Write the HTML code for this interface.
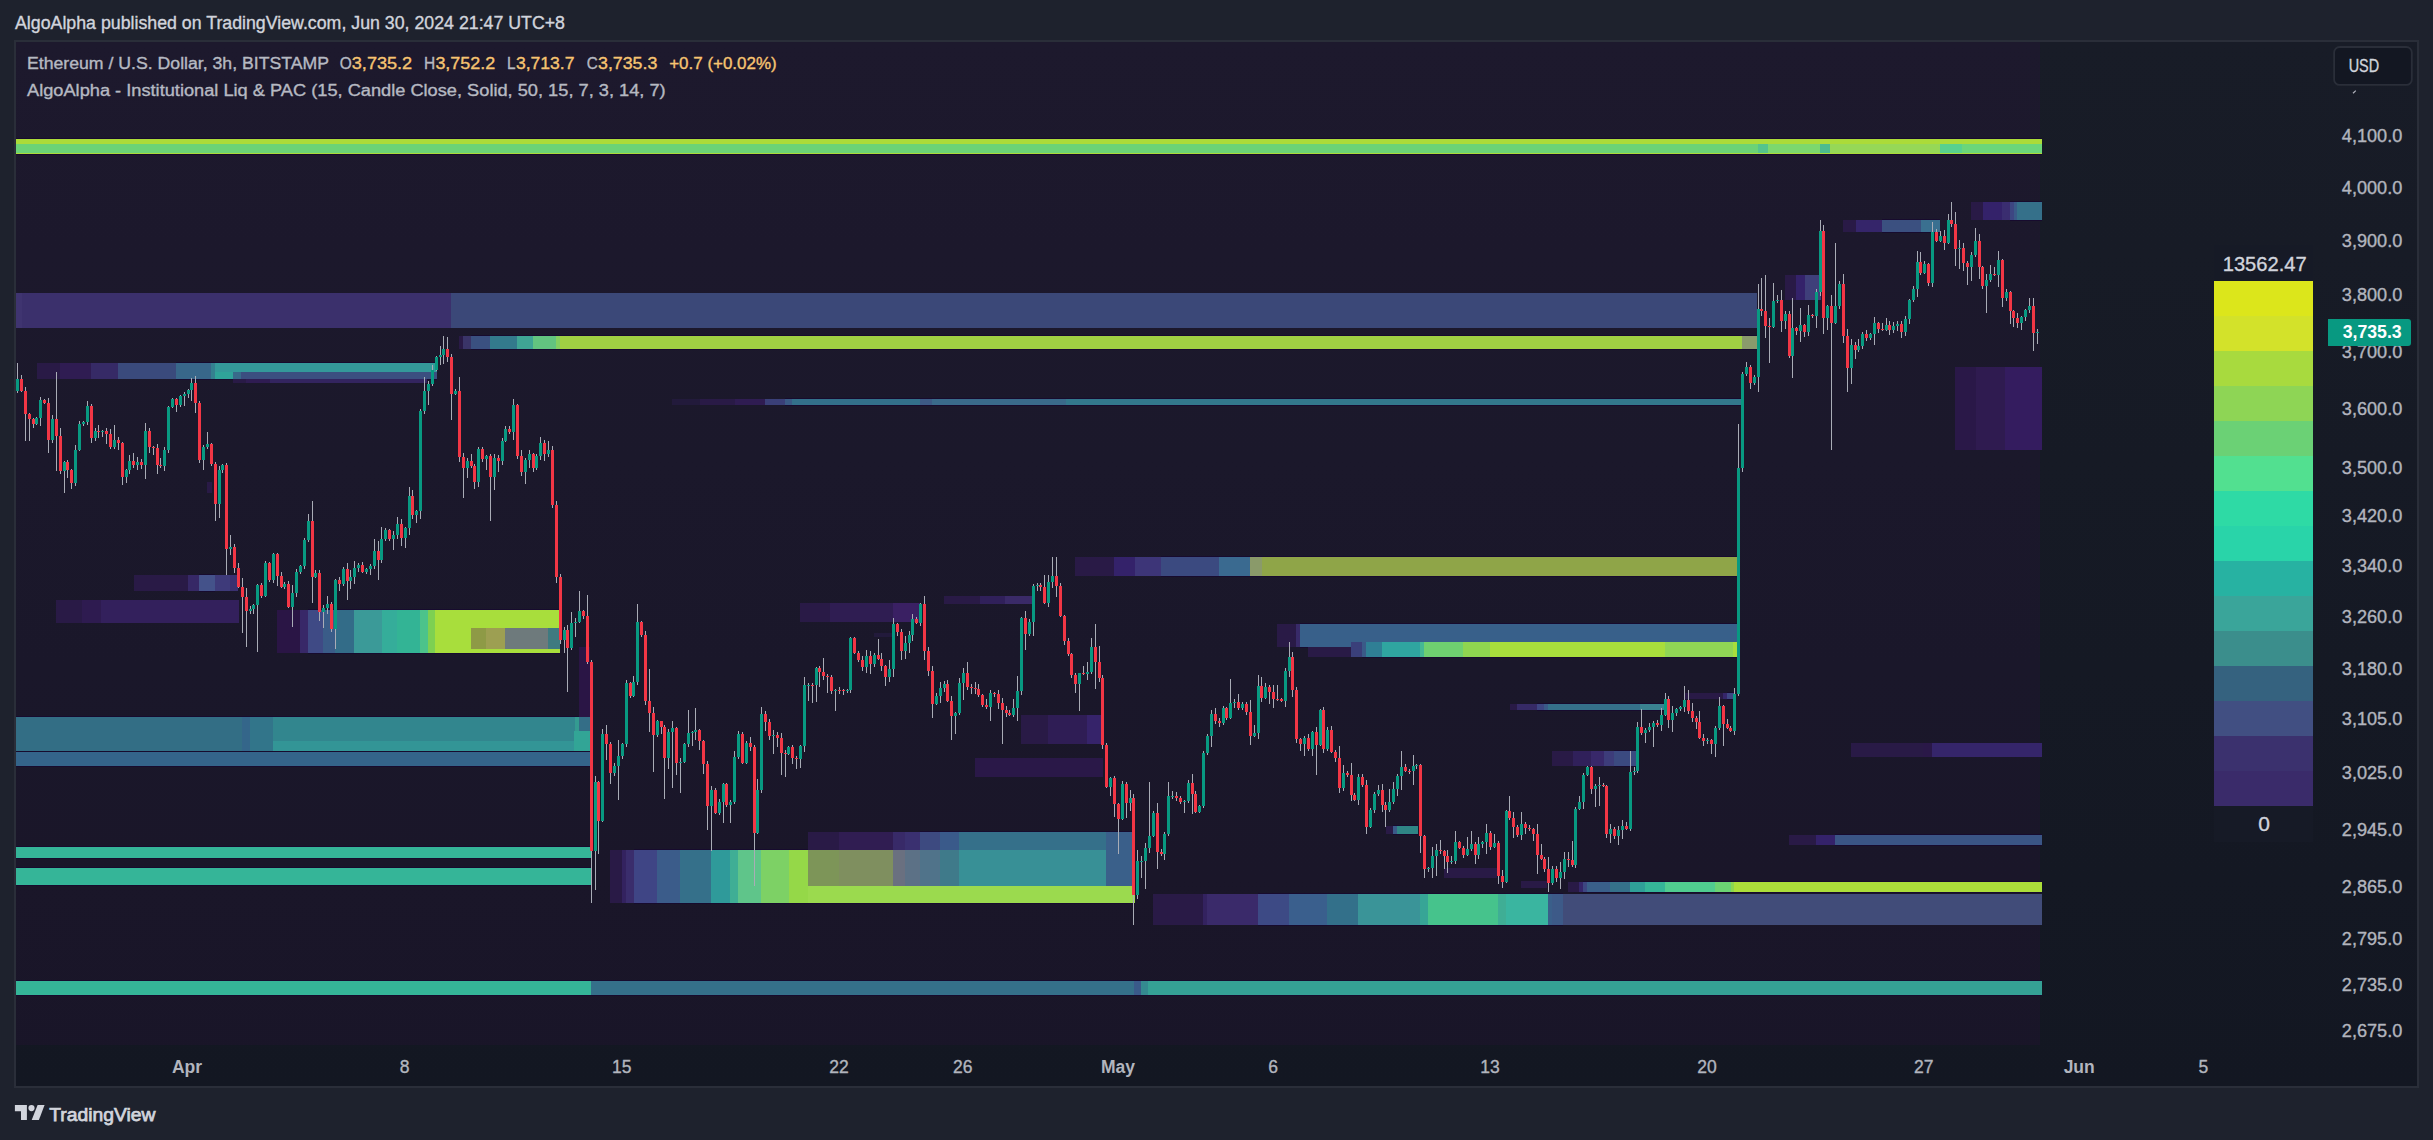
<!DOCTYPE html><html><head><meta charset="utf-8"><title>chart</title><style>html,body{margin:0;padding:0;background:#1e222d}svg{display:block}text{font-family:"Liberation Sans",sans-serif}</style></head><body>
<svg width="2433" height="1140" viewBox="0 0 2433 1140">
<rect width="2433" height="1140" fill="#1e222d"/>
<rect x="14" y="40" width="2405" height="1048" fill="#2a2e39"/>
<defs><linearGradient id="bg" x1="0" y1="0" x2="0" y2="1"><stop offset="0" stop-color="#181c27"/><stop offset="1" stop-color="#131722"/></linearGradient></defs>
<rect x="16" y="42" width="2401" height="1044" fill="url(#bg)"/>
<rect x="16" y="42" width="2024" height="1003" fill="rgb(60,15,82)" fill-opacity="0.15"/>
<g shape-rendering="crispEdges">
<rect x="16" y="138" width="2026" height="7.3" fill="#170b2e"/>
<rect x="16" y="143.3" width="1742" height="11" fill="#170b2e"/>
<rect x="1758" y="143.3" width="10" height="11" fill="#170b2e"/>
<rect x="1768" y="143.3" width="52" height="11" fill="#170b2e"/>
<rect x="1820" y="143.3" width="10" height="11" fill="#170b2e"/>
<rect x="1830" y="143.3" width="110" height="11" fill="#170b2e"/>
<rect x="1940" y="143.3" width="22" height="11" fill="#170b2e"/>
<rect x="1962" y="143.3" width="80" height="11" fill="#170b2e"/>
<rect x="16" y="152" width="2026" height="3.2" fill="#170b2e"/>
<rect x="471" y="335" width="19" height="15" fill="#170b2e"/>
<rect x="490" y="335" width="27" height="15" fill="#170b2e"/>
<rect x="517" y="335" width="16" height="15" fill="#170b2e"/>
<rect x="533" y="335" width="23" height="15" fill="#170b2e"/>
<rect x="556" y="335" width="4" height="15" fill="#170b2e"/>
<rect x="560" y="335" width="1182" height="15" fill="#170b2e"/>
<rect x="1742" y="335" width="15" height="15" fill="#170b2e"/>
<rect x="176" y="362" width="35" height="11" fill="#170b2e"/>
<rect x="211" y="362" width="4" height="11" fill="#170b2e"/>
<rect x="215" y="362" width="222" height="11" fill="#170b2e"/>
<rect x="176" y="371" width="35" height="9" fill="#170b2e"/>
<rect x="211" y="371" width="4" height="9" fill="#170b2e"/>
<rect x="215" y="371" width="18" height="9" fill="#170b2e"/>
<rect x="233" y="371" width="8" height="9" fill="#170b2e"/>
<rect x="241" y="371" width="196" height="9" fill="#170b2e"/>
<rect x="785" y="398" width="7" height="8" fill="#170b2e"/>
<rect x="792" y="398" width="128" height="8" fill="#170b2e"/>
<rect x="920" y="398" width="12" height="8" fill="#170b2e"/>
<rect x="932" y="398" width="134" height="8" fill="#170b2e"/>
<rect x="1066" y="398" width="675" height="8" fill="#170b2e"/>
<rect x="199" y="574" width="16" height="17.7" fill="#170b2e"/>
<rect x="308" y="609" width="15" height="44.7" fill="#170b2e"/>
<rect x="323" y="609" width="12" height="44.7" fill="#170b2e"/>
<rect x="335" y="609" width="19" height="44.7" fill="#170b2e"/>
<rect x="354" y="609" width="28" height="44.7" fill="#170b2e"/>
<rect x="382" y="609" width="15" height="44.7" fill="#170b2e"/>
<rect x="397" y="609" width="23" height="44.7" fill="#170b2e"/>
<rect x="420" y="609" width="8" height="44.7" fill="#170b2e"/>
<rect x="428" y="609" width="7" height="44.7" fill="#170b2e"/>
<rect x="435" y="609" width="125" height="44.7" fill="#170b2e"/>
<rect x="471" y="627" width="15" height="23" fill="#170b2e"/>
<rect x="486" y="627" width="19" height="23" fill="#170b2e"/>
<rect x="548" y="627" width="12" height="23" fill="#170b2e"/>
<rect x="16" y="715.8" width="226" height="36.2" fill="#170b2e"/>
<rect x="242" y="715.8" width="8" height="36.2" fill="#170b2e"/>
<rect x="250" y="715.8" width="23" height="36.2" fill="#170b2e"/>
<rect x="273" y="715.8" width="302" height="25.7" fill="#170b2e"/>
<rect x="273" y="739.5" width="302" height="12.5" fill="#170b2e"/>
<rect x="575" y="715.8" width="4" height="16.2" fill="#170b2e"/>
<rect x="579" y="715.8" width="11" height="16.2" fill="#170b2e"/>
<rect x="574" y="730" width="16" height="22" fill="#170b2e"/>
<rect x="16" y="751" width="574" height="15.7" fill="#170b2e"/>
<rect x="16" y="846.3" width="574.7" height="12.4" fill="#170b2e"/>
<rect x="16" y="867.3" width="574.7" height="18.7" fill="#170b2e"/>
<rect x="16" y="979.7" width="575" height="16.6" fill="#170b2e"/>
<rect x="591" y="979.7" width="543" height="16.6" fill="#170b2e"/>
<rect x="1134" y="979.7" width="7" height="16.6" fill="#170b2e"/>
<rect x="1141" y="979.7" width="7" height="16.6" fill="#170b2e"/>
<rect x="1148" y="979.7" width="894" height="16.6" fill="#170b2e"/>
<rect x="1161" y="556" width="58" height="21" fill="#170b2e"/>
<rect x="1219" y="556" width="31" height="21" fill="#170b2e"/>
<rect x="1250" y="556" width="12" height="21" fill="#170b2e"/>
<rect x="1262" y="556" width="475" height="21" fill="#170b2e"/>
<rect x="1300" y="623" width="437" height="25" fill="#170b2e"/>
<rect x="1362" y="641" width="4" height="17" fill="#170b2e"/>
<rect x="1366" y="641" width="16" height="17" fill="#170b2e"/>
<rect x="1382" y="641" width="38" height="17" fill="#170b2e"/>
<rect x="1420" y="641" width="4" height="17" fill="#170b2e"/>
<rect x="1424" y="641" width="39" height="17" fill="#170b2e"/>
<rect x="1463" y="641" width="27" height="17" fill="#170b2e"/>
<rect x="1490" y="641" width="175" height="17" fill="#170b2e"/>
<rect x="1665" y="641" width="68" height="17" fill="#170b2e"/>
<rect x="1733" y="641" width="4" height="17" fill="#170b2e"/>
<rect x="1536.6" y="703" width="7.4" height="8" fill="#170b2e"/>
<rect x="1544" y="703" width="4" height="8" fill="#170b2e"/>
<rect x="1548" y="703" width="92" height="8" fill="#170b2e"/>
<rect x="1640" y="703" width="24" height="8" fill="#170b2e"/>
<rect x="1727" y="692" width="6.6" height="7.7" fill="#170b2e"/>
<rect x="1614" y="750.2" width="23" height="16.7" fill="#170b2e"/>
<rect x="920" y="831" width="19.6" height="20.4" fill="#170b2e"/>
<rect x="939.6" y="831" width="19.4" height="20.4" fill="#170b2e"/>
<rect x="959" y="831" width="147" height="20.4" fill="#170b2e"/>
<rect x="1106" y="831" width="28" height="20.4" fill="#170b2e"/>
<rect x="634" y="849.4" width="22.6" height="54.5" fill="#170b2e"/>
<rect x="656.6" y="849.4" width="23.4" height="54.5" fill="#170b2e"/>
<rect x="680" y="849.4" width="30.7" height="54.5" fill="#170b2e"/>
<rect x="710.7" y="849.4" width="19.3" height="54.5" fill="#170b2e"/>
<rect x="730" y="849.4" width="7.7" height="54.5" fill="#170b2e"/>
<rect x="737.7" y="849.4" width="23.3" height="54.5" fill="#170b2e"/>
<rect x="761" y="849.4" width="28" height="54.5" fill="#170b2e"/>
<rect x="789" y="849.4" width="19.2" height="54.5" fill="#170b2e"/>
<rect x="808.2" y="849.4" width="326.3" height="54.5" fill="#170b2e"/>
<rect x="808.2" y="849.4" width="30.8" height="37.3" fill="#170b2e"/>
<rect x="839" y="849.4" width="54" height="37.3" fill="#170b2e"/>
<rect x="893" y="849.4" width="12" height="37.3" fill="#170b2e"/>
<rect x="905" y="849.4" width="15.3" height="37.3" fill="#170b2e"/>
<rect x="920.3" y="849.4" width="19.3" height="37.3" fill="#170b2e"/>
<rect x="939.6" y="849.4" width="19.4" height="37.3" fill="#170b2e"/>
<rect x="959" y="849.4" width="147" height="37.3" fill="#170b2e"/>
<rect x="1106" y="849.4" width="27.5" height="37.3" fill="#170b2e"/>
<rect x="1258" y="893" width="31" height="33" fill="#170b2e"/>
<rect x="1289" y="893" width="38" height="33" fill="#170b2e"/>
<rect x="1327" y="893" width="31" height="33" fill="#170b2e"/>
<rect x="1358" y="893" width="62" height="33" fill="#170b2e"/>
<rect x="1420" y="893" width="8" height="33" fill="#170b2e"/>
<rect x="1428" y="893" width="70" height="33" fill="#170b2e"/>
<rect x="1498" y="893" width="7.7" height="33" fill="#170b2e"/>
<rect x="1505.7" y="893" width="42.3" height="33" fill="#170b2e"/>
<rect x="1548" y="893" width="4" height="33" fill="#170b2e"/>
<rect x="1552" y="893" width="11" height="33" fill="#170b2e"/>
<rect x="1393" y="825" width="4" height="10" fill="#170b2e"/>
<rect x="1397" y="825" width="21.2" height="10" fill="#170b2e"/>
<rect x="1583" y="880.8" width="4" height="12.5" fill="#170b2e"/>
<rect x="1587" y="880.8" width="23" height="12.5" fill="#170b2e"/>
<rect x="1610" y="880.8" width="20" height="12.5" fill="#170b2e"/>
<rect x="1630" y="880.8" width="15" height="12.5" fill="#170b2e"/>
<rect x="1645" y="880.8" width="20" height="12.5" fill="#170b2e"/>
<rect x="1665" y="880.8" width="49.5" height="12.5" fill="#170b2e"/>
<rect x="1714.5" y="880.8" width="16.5" height="12.5" fill="#170b2e"/>
<rect x="1731" y="880.8" width="3" height="12.5" fill="#170b2e"/>
<rect x="1734" y="880.8" width="308" height="12.5" fill="#170b2e"/>
<rect x="2010" y="201" width="4" height="20.2" fill="#170b2e"/>
<rect x="2014" y="201" width="3" height="20.2" fill="#170b2e"/>
<rect x="2017" y="201" width="25" height="20.2" fill="#170b2e"/>
<rect x="1882" y="219.2" width="39.4" height="13.8" fill="#170b2e"/>
<rect x="1921.4" y="219.2" width="18.6" height="13.8" fill="#170b2e"/>
<rect x="1835" y="834.3" width="207" height="11.4" fill="#170b2e"/>
<rect x="16" y="139" width="2026" height="5.3" fill="#abdb39"/>
<rect x="16" y="144.3" width="1742" height="9" fill="#6bd376"/>
<rect x="1758" y="144.3" width="10" height="9" fill="#55c48c"/>
<rect x="1768" y="144.3" width="52" height="9" fill="#7cd86e"/>
<rect x="1820" y="144.3" width="10" height="9" fill="#4cbc8e"/>
<rect x="1830" y="144.3" width="110" height="9" fill="#96d857"/>
<rect x="1940" y="144.3" width="22" height="9" fill="#58d18e"/>
<rect x="1962" y="144.3" width="80" height="9" fill="#6bd67a"/>
<rect x="16" y="153" width="2026" height="1.2" fill="#abdb39"/>
<rect x="16" y="293" width="6" height="35" fill="#3f3470"/>
<rect x="22" y="293" width="429" height="35" fill="#3b306c"/>
<rect x="451" y="293" width="1306" height="35" fill="#3b4878"/>
<rect x="459" y="336" width="4" height="13" fill="#291a46"/>
<rect x="463" y="336" width="8" height="13" fill="#3a3468"/>
<rect x="471" y="336" width="19" height="13" fill="#3a5080"/>
<rect x="490" y="336" width="27" height="13" fill="#337a8c"/>
<rect x="517" y="336" width="16" height="13" fill="#3fa595"/>
<rect x="533" y="336" width="23" height="13" fill="#62c480"/>
<rect x="556" y="336" width="4" height="13" fill="#84d060"/>
<rect x="560" y="336" width="1182" height="13" fill="#a0d043"/>
<rect x="1742" y="336" width="15" height="13" fill="#8a9a6c"/>
<rect x="37" y="363" width="23" height="9" fill="#291a46"/>
<rect x="60" y="363" width="31" height="9" fill="#2f1c52"/>
<rect x="91" y="363" width="27" height="9" fill="#362a66"/>
<rect x="118" y="363" width="58" height="9" fill="#3a4a7c"/>
<rect x="176" y="363" width="35" height="9" fill="#38678a"/>
<rect x="211" y="363" width="4" height="9" fill="#348090"/>
<rect x="215" y="363" width="222" height="9" fill="#34999a"/>
<rect x="37" y="372" width="23" height="7" fill="#291a46"/>
<rect x="60" y="372" width="31" height="7" fill="#2f1c52"/>
<rect x="91" y="372" width="27" height="7" fill="#362a66"/>
<rect x="118" y="372" width="58" height="7" fill="#3a4a7c"/>
<rect x="176" y="372" width="35" height="7" fill="#38678a"/>
<rect x="211" y="372" width="4" height="7" fill="#348090"/>
<rect x="215" y="372" width="18" height="7" fill="#2fa39a"/>
<rect x="233" y="372" width="8" height="7" fill="#386a8a"/>
<rect x="241" y="372" width="196" height="7" fill="#3b4f80"/>
<rect x="233" y="379" width="13" height="4" fill="#291a46"/>
<rect x="246" y="379" width="24" height="4" fill="#2f1c52"/>
<rect x="270" y="379" width="157" height="4" fill="#33245f"/>
<rect x="672" y="399" width="28" height="6" fill="#221a3b"/>
<rect x="700" y="399" width="35" height="6" fill="#291a46"/>
<rect x="735" y="399" width="30" height="6" fill="#2f1c52"/>
<rect x="765" y="399" width="20" height="6" fill="#3a3f78"/>
<rect x="785" y="399" width="7" height="6" fill="#3a5a85"/>
<rect x="792" y="399" width="128" height="6" fill="#33708a"/>
<rect x="920" y="399" width="12" height="6" fill="#3d5a85"/>
<rect x="932" y="399" width="134" height="6" fill="#3a6a8a"/>
<rect x="1066" y="399" width="675" height="6" fill="#33788c"/>
<rect x="207" y="482" width="5" height="11" fill="#291a46"/>
<rect x="134" y="575" width="54" height="15.7" fill="#291a46"/>
<rect x="188" y="575" width="11" height="15.7" fill="#362866"/>
<rect x="199" y="575" width="16" height="15.7" fill="#44528a"/>
<rect x="215" y="575" width="15" height="15.7" fill="#3e3a7a"/>
<rect x="230" y="575" width="8" height="15.7" fill="#3a3070"/>
<rect x="56" y="600" width="26" height="22.7" fill="#291a46"/>
<rect x="82" y="600" width="19" height="22.7" fill="#2e1b50"/>
<rect x="101" y="600" width="138" height="22.7" fill="#33205c"/>
<rect x="277" y="610" width="23" height="42.7" fill="#2a1545"/>
<rect x="300" y="610" width="8" height="42.7" fill="#382868"/>
<rect x="308" y="610" width="15" height="42.7" fill="#3f4a85"/>
<rect x="323" y="610" width="12" height="42.7" fill="#3a5c88"/>
<rect x="335" y="610" width="19" height="42.7" fill="#336c88"/>
<rect x="354" y="610" width="28" height="42.7" fill="#3b9a98"/>
<rect x="382" y="610" width="15" height="42.7" fill="#35ad9a"/>
<rect x="397" y="610" width="23" height="42.7" fill="#33b495"/>
<rect x="420" y="610" width="8" height="42.7" fill="#4cc38b"/>
<rect x="428" y="610" width="7" height="42.7" fill="#7dd052"/>
<rect x="435" y="610" width="125" height="42.7" fill="#a8de3c"/>
<rect x="471" y="628" width="15" height="21" fill="#8e9a46"/>
<rect x="486" y="628" width="19" height="21" fill="#9d9f52"/>
<rect x="505" y="628" width="43" height="21" fill="#6e7a7c"/>
<rect x="548" y="628" width="12" height="21" fill="#3f7a80"/>
<rect x="579" y="647" width="11" height="70" fill="#2a1545"/>
<rect x="16" y="716.8" width="226" height="34.2" fill="#336e85"/>
<rect x="242" y="716.8" width="8" height="34.2" fill="#34668a"/>
<rect x="250" y="716.8" width="23" height="34.2" fill="#32758a"/>
<rect x="273" y="716.8" width="302" height="23.7" fill="#32868e"/>
<rect x="273" y="740.5" width="302" height="10.5" fill="#339596"/>
<rect x="575" y="716.8" width="4" height="14.2" fill="#349b91"/>
<rect x="579" y="716.8" width="11" height="14.2" fill="#346e87"/>
<rect x="574" y="731" width="16" height="20" fill="#32a596"/>
<rect x="16" y="752" width="574" height="13.7" fill="#34648a"/>
<rect x="16" y="847.3" width="574.7" height="10.4" fill="#35b598"/>
<rect x="16" y="868.3" width="574.7" height="16.7" fill="#35b598"/>
<rect x="16" y="980.7" width="575" height="14.6" fill="#35b598"/>
<rect x="591" y="980.7" width="543" height="14.6" fill="#35708a"/>
<rect x="1134" y="980.7" width="7" height="14.6" fill="#3a5a8a"/>
<rect x="1141" y="980.7" width="7" height="14.6" fill="#348a90"/>
<rect x="1148" y="980.7" width="894" height="14.6" fill="#35a095"/>
<rect x="800" y="603" width="30" height="19" fill="#291a46"/>
<rect x="830" y="603" width="63" height="19" fill="#2f1d52"/>
<rect x="893" y="603" width="27" height="19" fill="#3a2063"/>
<rect x="944" y="596" width="36" height="8" fill="#291a46"/>
<rect x="980" y="596" width="25" height="8" fill="#30205a"/>
<rect x="1005" y="596" width="27" height="8" fill="#3a2a68"/>
<rect x="874" y="632.7" width="19" height="4.3" fill="#221a3b"/>
<rect x="1021" y="715.2" width="27" height="28.6" fill="#291a46"/>
<rect x="1048" y="715.2" width="39" height="28.6" fill="#2f1d55"/>
<rect x="1087" y="715.2" width="15" height="28.6" fill="#36236a"/>
<rect x="975" y="757.7" width="128" height="19" fill="#2a1848"/>
<rect x="1075" y="557" width="39" height="19" fill="#291a46"/>
<rect x="1114" y="557" width="20.6" height="19" fill="#34226a"/>
<rect x="1134.6" y="557" width="26.4" height="19" fill="#3d3578"/>
<rect x="1161" y="557" width="58" height="19" fill="#3b4a80"/>
<rect x="1219" y="557" width="31" height="19" fill="#3a6a90"/>
<rect x="1250" y="557" width="12" height="19" fill="#8a9a6a"/>
<rect x="1262" y="557" width="475" height="19" fill="#8fa548"/>
<rect x="1277" y="624" width="19" height="23" fill="#291a46"/>
<rect x="1296" y="624" width="4" height="23" fill="#382a68"/>
<rect x="1300" y="624" width="437" height="23" fill="#38608a"/>
<rect x="1308" y="647" width="42.6" height="10" fill="#291a46"/>
<rect x="1350.6" y="642" width="11.4" height="15" fill="#3a3f7a"/>
<rect x="1362" y="642" width="4" height="15" fill="#3a5a88"/>
<rect x="1366" y="642" width="16" height="15" fill="#2f7f95"/>
<rect x="1382" y="642" width="38" height="15" fill="#2fa5a0"/>
<rect x="1420" y="642" width="4" height="15" fill="#45b895"/>
<rect x="1424" y="642" width="39" height="15" fill="#6fd070"/>
<rect x="1463" y="642" width="27" height="15" fill="#8fd550"/>
<rect x="1490" y="642" width="175" height="15" fill="#a8de3c"/>
<rect x="1665" y="642" width="68" height="15" fill="#90d555"/>
<rect x="1733" y="642" width="4" height="15" fill="#a8de3c"/>
<rect x="1510" y="704" width="7" height="6" fill="#291a46"/>
<rect x="1517" y="704" width="19.6" height="6" fill="#362a66"/>
<rect x="1536.6" y="704" width="7.4" height="6" fill="#3d4682"/>
<rect x="1544" y="704" width="4" height="6" fill="#3a5a88"/>
<rect x="1548" y="704" width="92" height="6" fill="#35708a"/>
<rect x="1640" y="704" width="24" height="6" fill="#3a8290"/>
<rect x="1684.4" y="693" width="38.6" height="5.7" fill="#291a46"/>
<rect x="1723" y="693" width="4" height="5.7" fill="#35256a"/>
<rect x="1727" y="693" width="6.6" height="5.7" fill="#3d4682"/>
<rect x="1552" y="751.2" width="21" height="14.7" fill="#291a46"/>
<rect x="1573" y="751.2" width="17.7" height="14.7" fill="#30205a"/>
<rect x="1590.7" y="751.2" width="13.3" height="14.7" fill="#38286a"/>
<rect x="1604" y="751.2" width="10" height="14.7" fill="#3d3c7a"/>
<rect x="1614" y="751.2" width="23" height="14.7" fill="#3b4a80"/>
<rect x="808" y="832" width="31" height="18.4" fill="#291a46"/>
<rect x="839" y="832" width="54" height="18.4" fill="#301d52"/>
<rect x="893" y="832" width="12" height="18.4" fill="#382a68"/>
<rect x="905" y="832" width="15" height="18.4" fill="#3a3070"/>
<rect x="920" y="832" width="19.6" height="18.4" fill="#3d4a80"/>
<rect x="939.6" y="832" width="19.4" height="18.4" fill="#3a5a8a"/>
<rect x="959" y="832" width="147" height="18.4" fill="#35708a"/>
<rect x="1106" y="832" width="28" height="18.4" fill="#3a5f8a"/>
<rect x="610" y="850.4" width="12" height="52.5" fill="#291a46"/>
<rect x="622" y="850.4" width="4" height="52.5" fill="#33225f"/>
<rect x="626" y="850.4" width="8" height="52.5" fill="#3a2d6c"/>
<rect x="634" y="850.4" width="22.6" height="52.5" fill="#3f4585"/>
<rect x="656.6" y="850.4" width="23.4" height="52.5" fill="#3b5c8a"/>
<rect x="680" y="850.4" width="30.7" height="52.5" fill="#35708a"/>
<rect x="710.7" y="850.4" width="19.3" height="52.5" fill="#2f9a9a"/>
<rect x="730" y="850.4" width="7.7" height="52.5" fill="#3fae95"/>
<rect x="737.7" y="850.4" width="23.3" height="52.5" fill="#5fc58a"/>
<rect x="761" y="850.4" width="28" height="52.5" fill="#7dd165"/>
<rect x="789" y="850.4" width="19.2" height="52.5" fill="#95d848"/>
<rect x="808.2" y="850.4" width="326.3" height="52.5" fill="#9bda4e"/>
<rect x="808.2" y="850.4" width="30.8" height="35.3" fill="#7d9558"/>
<rect x="839" y="850.4" width="54" height="35.3" fill="#7f8f5f"/>
<rect x="893" y="850.4" width="12" height="35.3" fill="#6a7080"/>
<rect x="905" y="850.4" width="15.3" height="35.3" fill="#5c7186"/>
<rect x="920.3" y="850.4" width="19.3" height="35.3" fill="#50738a"/>
<rect x="939.6" y="850.4" width="19.4" height="35.3" fill="#3f7a8a"/>
<rect x="959" y="850.4" width="147" height="35.3" fill="#389096"/>
<rect x="1106" y="850.4" width="27.5" height="35.3" fill="#3a608a"/>
<rect x="1153" y="894" width="50" height="31" fill="#291a46"/>
<rect x="1203" y="894" width="4" height="31" fill="#33225f"/>
<rect x="1207" y="894" width="51" height="31" fill="#3a2a6a"/>
<rect x="1258" y="894" width="31" height="31" fill="#3d4a85"/>
<rect x="1289" y="894" width="38" height="31" fill="#3a5f8d"/>
<rect x="1327" y="894" width="31" height="31" fill="#33708a"/>
<rect x="1358" y="894" width="62" height="31" fill="#3a9498"/>
<rect x="1420" y="894" width="8" height="31" fill="#37a596"/>
<rect x="1428" y="894" width="70" height="31" fill="#46c38c"/>
<rect x="1498" y="894" width="7.7" height="31" fill="#3fae95"/>
<rect x="1505.7" y="894" width="42.3" height="31" fill="#3ab5a0"/>
<rect x="1548" y="894" width="4" height="31" fill="#3a5f8a"/>
<rect x="1552" y="894" width="11" height="31" fill="#3d5a88"/>
<rect x="1563" y="894" width="479" height="31" fill="#414c79"/>
<rect x="1386" y="826" width="7" height="8" fill="#291a46"/>
<rect x="1393" y="826" width="4" height="8" fill="#3a5a88"/>
<rect x="1397" y="826" width="21.2" height="8" fill="#2f8585"/>
<rect x="1444" y="868" width="53" height="9.8" fill="#291a46"/>
<rect x="1521" y="881.2" width="26" height="6.8" fill="#291a46"/>
<rect x="1568" y="881.8" width="11" height="10.5" fill="#291a46"/>
<rect x="1579" y="881.8" width="4" height="10.5" fill="#35256a"/>
<rect x="1583" y="881.8" width="4" height="10.5" fill="#3d4682"/>
<rect x="1587" y="881.8" width="23" height="10.5" fill="#3a5f8a"/>
<rect x="1610" y="881.8" width="20" height="10.5" fill="#35708a"/>
<rect x="1630" y="881.8" width="15" height="10.5" fill="#2f9f98"/>
<rect x="1645" y="881.8" width="20" height="10.5" fill="#35b598"/>
<rect x="1665" y="881.8" width="49.5" height="10.5" fill="#50cc90"/>
<rect x="1714.5" y="881.8" width="16.5" height="10.5" fill="#6bd373"/>
<rect x="1731" y="881.8" width="3" height="10.5" fill="#8cd650"/>
<rect x="1734" y="881.8" width="308" height="10.5" fill="#acde3a"/>
<rect x="1971" y="202" width="12" height="18.2" fill="#291a46"/>
<rect x="1983" y="202" width="18.6" height="18.2" fill="#34226a"/>
<rect x="2001.6" y="202" width="8.4" height="18.2" fill="#3a2d70"/>
<rect x="2010" y="202" width="4" height="18.2" fill="#3d4682"/>
<rect x="2014" y="202" width="3" height="18.2" fill="#3a5a88"/>
<rect x="2017" y="202" width="25" height="18.2" fill="#35708a"/>
<rect x="1843" y="220.2" width="12.7" height="11.8" fill="#291a46"/>
<rect x="1855.7" y="220.2" width="26.3" height="11.8" fill="#35256a"/>
<rect x="1882" y="220.2" width="39.4" height="11.8" fill="#3b5080"/>
<rect x="1921.4" y="220.2" width="18.6" height="11.8" fill="#3a7090"/>
<rect x="1785" y="274.8" width="11" height="25.2" fill="#291a46"/>
<rect x="1796" y="274.8" width="8.5" height="25.2" fill="#34226a"/>
<rect x="1804.5" y="274.8" width="16.5" height="25.2" fill="#3f3f7a"/>
<rect x="1955" y="367" width="20.5" height="83" fill="#2a1848"/>
<rect x="1975.5" y="367" width="29.9" height="83" fill="#2f1b50"/>
<rect x="2005.4" y="367" width="36.6" height="83" fill="#341c5f"/>
<rect x="1851" y="743" width="72" height="13.6" fill="#291a46"/>
<rect x="1923" y="743" width="9" height="13.6" fill="#2a1848"/>
<rect x="1932" y="743" width="110" height="13.6" fill="#35256a"/>
<rect x="1789" y="835.3" width="27" height="9.4" fill="#291a46"/>
<rect x="1816" y="835.3" width="19" height="9.4" fill="#34226a"/>
<rect x="1835" y="835.3" width="207" height="9.4" fill="#3a5585"/>
</g>
<g shape-rendering="crispEdges">
<rect x="2214" y="245" width="99" height="36" fill="#161a26"/>
<rect x="2214" y="806" width="99" height="36" fill="#161a26"/>
<rect x="2214" y="281" width="99" height="35" fill="#dce61b"/>
<rect x="2214" y="316" width="99" height="35" fill="#d3e22a"/>
<rect x="2214" y="351" width="99" height="35" fill="#a8da3e"/>
<rect x="2214" y="386" width="99" height="35" fill="#8ed555"/>
<rect x="2214" y="421" width="99" height="35" fill="#6bd175"/>
<rect x="2214" y="456" width="99" height="35" fill="#52e090"/>
<rect x="2214" y="491" width="99" height="35" fill="#2edaa5"/>
<rect x="2214" y="526" width="99" height="35" fill="#29d4a9"/>
<rect x="2214" y="561" width="99" height="35" fill="#27b2a2"/>
<rect x="2214" y="596" width="99" height="35" fill="#3aa59a"/>
<rect x="2214" y="631" width="99" height="35" fill="#3b8e8c"/>
<rect x="2214" y="666" width="99" height="35" fill="#35627f"/>
<rect x="2214" y="701" width="99" height="35" fill="#414f82"/>
<rect x="2214" y="736" width="99" height="35" fill="#3b316e"/>
<rect x="2214" y="771" width="99" height="35" fill="#3a2b6a"/>
</g>
<g shape-rendering="crispEdges">
<rect x="17" y="363.0" width="1" height="30.0" fill="#a9acb6"/>
<rect x="21" y="374.5" width="1" height="17.6" fill="#a9acb6"/>
<rect x="25" y="387.4" width="1" height="53.3" fill="#a9acb6"/>
<rect x="29" y="413.0" width="1" height="27.7" fill="#a9acb6"/>
<rect x="33" y="418.2" width="1" height="9.3" fill="#a9acb6"/>
<rect x="36" y="416.7" width="1" height="8.7" fill="#a9acb6"/>
<rect x="40" y="397.2" width="1" height="29.1" fill="#a9acb6"/>
<rect x="44" y="398.7" width="1" height="5.7" fill="#a9acb6"/>
<rect x="48" y="398.1" width="1" height="55.1" fill="#a9acb6"/>
<rect x="52" y="415.2" width="1" height="27.3" fill="#a9acb6"/>
<rect x="56" y="372.0" width="1" height="99.3" fill="#a9acb6"/>
<rect x="60" y="427.8" width="1" height="45.8" fill="#a9acb6"/>
<rect x="64" y="461.0" width="1" height="32.0" fill="#a9acb6"/>
<rect x="67" y="460.3" width="1" height="18.0" fill="#a9acb6"/>
<rect x="71" y="468.5" width="1" height="20.5" fill="#a9acb6"/>
<rect x="75" y="445.2" width="1" height="40.4" fill="#a9acb6"/>
<rect x="79" y="420.5" width="1" height="30.2" fill="#a9acb6"/>
<rect x="83" y="421.1" width="1" height="4.9" fill="#a9acb6"/>
<rect x="87" y="400.9" width="1" height="24.5" fill="#a9acb6"/>
<rect x="91" y="403.6" width="1" height="39.2" fill="#a9acb6"/>
<rect x="95" y="428.3" width="1" height="12.2" fill="#a9acb6"/>
<rect x="98" y="424.8" width="1" height="13.6" fill="#a9acb6"/>
<rect x="102" y="429.5" width="1" height="7.4" fill="#a9acb6"/>
<rect x="106" y="427.8" width="1" height="16.5" fill="#a9acb6"/>
<rect x="110" y="428.9" width="1" height="20.5" fill="#a9acb6"/>
<rect x="114" y="424.6" width="1" height="23.9" fill="#a9acb6"/>
<rect x="118" y="436.8" width="1" height="13.6" fill="#a9acb6"/>
<rect x="122" y="441.9" width="1" height="42.7" fill="#a9acb6"/>
<rect x="126" y="468.6" width="1" height="14.0" fill="#a9acb6"/>
<rect x="129" y="455.1" width="1" height="19.0" fill="#a9acb6"/>
<rect x="133" y="452.8" width="1" height="14.7" fill="#a9acb6"/>
<rect x="137" y="457.3" width="1" height="12.4" fill="#a9acb6"/>
<rect x="141" y="458.5" width="1" height="10.0" fill="#a9acb6"/>
<rect x="145" y="423.2" width="1" height="55.3" fill="#a9acb6"/>
<rect x="149" y="427.5" width="1" height="25.2" fill="#a9acb6"/>
<rect x="153" y="446.1" width="1" height="8.4" fill="#a9acb6"/>
<rect x="157" y="443.9" width="1" height="30.1" fill="#a9acb6"/>
<rect x="160" y="458.0" width="1" height="9.8" fill="#a9acb6"/>
<rect x="164" y="447.1" width="1" height="24.0" fill="#a9acb6"/>
<rect x="168" y="406.0" width="1" height="47.2" fill="#a9acb6"/>
<rect x="172" y="397.7" width="1" height="10.5" fill="#a9acb6"/>
<rect x="176" y="398.2" width="1" height="14.2" fill="#a9acb6"/>
<rect x="180" y="394.8" width="1" height="12.4" fill="#a9acb6"/>
<rect x="184" y="391.5" width="1" height="14.4" fill="#a9acb6"/>
<rect x="188" y="389.2" width="1" height="8.3" fill="#a9acb6"/>
<rect x="191" y="378.3" width="1" height="22.3" fill="#a9acb6"/>
<rect x="195" y="376.4" width="1" height="36.1" fill="#a9acb6"/>
<rect x="199" y="401.0" width="1" height="62.0" fill="#a9acb6"/>
<rect x="203" y="444.7" width="1" height="25.5" fill="#a9acb6"/>
<rect x="207" y="431.9" width="1" height="16.7" fill="#a9acb6"/>
<rect x="211" y="442.6" width="1" height="23.5" fill="#a9acb6"/>
<rect x="215" y="462.3" width="1" height="58.7" fill="#a9acb6"/>
<rect x="219" y="466.0" width="1" height="52.0" fill="#a9acb6"/>
<rect x="222" y="464.2" width="1" height="9.0" fill="#a9acb6"/>
<rect x="226" y="462.5" width="1" height="112.5" fill="#a9acb6"/>
<rect x="230" y="535.2" width="1" height="19.5" fill="#a9acb6"/>
<rect x="234" y="543.6" width="1" height="29.2" fill="#a9acb6"/>
<rect x="238" y="562.9" width="1" height="24.8" fill="#a9acb6"/>
<rect x="242" y="577.6" width="1" height="55.4" fill="#a9acb6"/>
<rect x="246" y="588.4" width="1" height="58.1" fill="#a9acb6"/>
<rect x="250" y="606.3" width="1" height="7.5" fill="#a9acb6"/>
<rect x="253" y="603.8" width="1" height="10.3" fill="#a9acb6"/>
<rect x="257" y="583.8" width="1" height="68.5" fill="#a9acb6"/>
<rect x="261" y="583.2" width="1" height="14.4" fill="#a9acb6"/>
<rect x="265" y="560.7" width="1" height="36.3" fill="#a9acb6"/>
<rect x="269" y="562.2" width="1" height="19.3" fill="#a9acb6"/>
<rect x="273" y="553.1" width="1" height="29.7" fill="#a9acb6"/>
<rect x="277" y="553.4" width="1" height="32.5" fill="#a9acb6"/>
<rect x="281" y="571.8" width="1" height="16.4" fill="#a9acb6"/>
<rect x="284" y="582.0" width="1" height="7.4" fill="#a9acb6"/>
<rect x="288" y="581.4" width="1" height="27.0" fill="#a9acb6"/>
<rect x="292" y="585.4" width="1" height="41.6" fill="#a9acb6"/>
<rect x="296" y="569.1" width="1" height="27.6" fill="#a9acb6"/>
<rect x="300" y="565.3" width="1" height="8.2" fill="#a9acb6"/>
<rect x="304" y="537.7" width="1" height="30.9" fill="#a9acb6"/>
<rect x="308" y="513.8" width="1" height="27.7" fill="#a9acb6"/>
<rect x="312" y="501.4" width="1" height="101.6" fill="#a9acb6"/>
<rect x="315" y="569.7" width="1" height="8.4" fill="#a9acb6"/>
<rect x="319" y="569.6" width="1" height="51.8" fill="#a9acb6"/>
<rect x="323" y="604.8" width="1" height="23.2" fill="#a9acb6"/>
<rect x="327" y="596.0" width="1" height="18.3" fill="#a9acb6"/>
<rect x="331" y="602.1" width="1" height="29.5" fill="#a9acb6"/>
<rect x="335" y="578.5" width="1" height="70.0" fill="#a9acb6"/>
<rect x="339" y="576.5" width="1" height="14.8" fill="#a9acb6"/>
<rect x="343" y="567.1" width="1" height="18.7" fill="#a9acb6"/>
<rect x="347" y="562.5" width="1" height="37.7" fill="#a9acb6"/>
<rect x="350" y="569.7" width="1" height="19.2" fill="#a9acb6"/>
<rect x="354" y="561.1" width="1" height="23.1" fill="#a9acb6"/>
<rect x="358" y="562.8" width="1" height="9.2" fill="#a9acb6"/>
<rect x="362" y="562.1" width="1" height="10.6" fill="#a9acb6"/>
<rect x="366" y="568.4" width="1" height="5.6" fill="#a9acb6"/>
<rect x="370" y="563.6" width="1" height="11.7" fill="#a9acb6"/>
<rect x="374" y="539.3" width="1" height="29.6" fill="#a9acb6"/>
<rect x="378" y="540.6" width="1" height="39.1" fill="#a9acb6"/>
<rect x="381" y="527.4" width="1" height="35.1" fill="#a9acb6"/>
<rect x="385" y="528.4" width="1" height="12.9" fill="#a9acb6"/>
<rect x="389" y="528.5" width="1" height="12.1" fill="#a9acb6"/>
<rect x="393" y="530.7" width="1" height="19.1" fill="#a9acb6"/>
<rect x="397" y="516.6" width="1" height="22.1" fill="#a9acb6"/>
<rect x="401" y="519.4" width="1" height="26.4" fill="#a9acb6"/>
<rect x="405" y="526.7" width="1" height="21.3" fill="#a9acb6"/>
<rect x="409" y="486.5" width="1" height="48.8" fill="#a9acb6"/>
<rect x="412" y="490.2" width="1" height="28.4" fill="#a9acb6"/>
<rect x="416" y="509.9" width="1" height="12.7" fill="#a9acb6"/>
<rect x="420" y="409.1" width="1" height="110.2" fill="#a9acb6"/>
<rect x="424" y="377.4" width="1" height="37.0" fill="#a9acb6"/>
<rect x="428" y="381.3" width="1" height="23.5" fill="#a9acb6"/>
<rect x="432" y="364.5" width="1" height="21.1" fill="#a9acb6"/>
<rect x="436" y="355.9" width="1" height="15.5" fill="#a9acb6"/>
<rect x="440" y="346.1" width="1" height="19.1" fill="#a9acb6"/>
<rect x="443" y="335.7" width="1" height="28.2" fill="#a9acb6"/>
<rect x="447" y="336.8" width="1" height="25.3" fill="#a9acb6"/>
<rect x="451" y="354.2" width="1" height="66.2" fill="#a9acb6"/>
<rect x="455" y="389.2" width="1" height="5.8" fill="#a9acb6"/>
<rect x="459" y="377.0" width="1" height="85.2" fill="#a9acb6"/>
<rect x="463" y="453.3" width="1" height="44.7" fill="#a9acb6"/>
<rect x="467" y="458.3" width="1" height="19.6" fill="#a9acb6"/>
<rect x="471" y="454.0" width="1" height="13.5" fill="#a9acb6"/>
<rect x="474" y="463.9" width="1" height="25.1" fill="#a9acb6"/>
<rect x="478" y="447.4" width="1" height="39.3" fill="#a9acb6"/>
<rect x="482" y="447.3" width="1" height="14.5" fill="#a9acb6"/>
<rect x="486" y="454.7" width="1" height="15.3" fill="#a9acb6"/>
<rect x="490" y="453.6" width="1" height="67.4" fill="#a9acb6"/>
<rect x="494" y="454.0" width="1" height="35.7" fill="#a9acb6"/>
<rect x="498" y="455.2" width="1" height="17.2" fill="#a9acb6"/>
<rect x="502" y="438.0" width="1" height="26.7" fill="#a9acb6"/>
<rect x="505" y="425.8" width="1" height="16.4" fill="#a9acb6"/>
<rect x="509" y="426.4" width="1" height="7.1" fill="#a9acb6"/>
<rect x="513" y="398.7" width="1" height="41.0" fill="#a9acb6"/>
<rect x="517" y="403.5" width="1" height="55.6" fill="#a9acb6"/>
<rect x="521" y="450.0" width="1" height="26.1" fill="#a9acb6"/>
<rect x="525" y="457.7" width="1" height="26.3" fill="#a9acb6"/>
<rect x="529" y="450.3" width="1" height="17.2" fill="#a9acb6"/>
<rect x="533" y="452.8" width="1" height="19.1" fill="#a9acb6"/>
<rect x="536" y="454.2" width="1" height="15.6" fill="#a9acb6"/>
<rect x="540" y="437.2" width="1" height="22.7" fill="#a9acb6"/>
<rect x="544" y="439.5" width="1" height="21.5" fill="#a9acb6"/>
<rect x="548" y="440.8" width="1" height="16.5" fill="#a9acb6"/>
<rect x="552" y="446.2" width="1" height="62.2" fill="#a9acb6"/>
<rect x="556" y="501.1" width="1" height="81.9" fill="#a9acb6"/>
<rect x="560" y="574.0" width="1" height="69.9" fill="#a9acb6"/>
<rect x="564" y="627.3" width="1" height="25.8" fill="#a9acb6"/>
<rect x="567" y="625.3" width="1" height="66.7" fill="#a9acb6"/>
<rect x="571" y="612.2" width="1" height="37.5" fill="#a9acb6"/>
<rect x="575" y="618.1" width="1" height="18.6" fill="#a9acb6"/>
<rect x="579" y="591.0" width="1" height="32.3" fill="#a9acb6"/>
<rect x="583" y="609.6" width="1" height="9.4" fill="#a9acb6"/>
<rect x="587" y="594.8" width="1" height="68.7" fill="#a9acb6"/>
<rect x="591" y="660.4" width="1" height="242.1" fill="#a9acb6"/>
<rect x="595" y="775.9" width="1" height="114.1" fill="#a9acb6"/>
<rect x="598" y="780.8" width="1" height="72.9" fill="#a9acb6"/>
<rect x="602" y="729.2" width="1" height="93.1" fill="#a9acb6"/>
<rect x="606" y="725.4" width="1" height="34.5" fill="#a9acb6"/>
<rect x="610" y="742.3" width="1" height="41.4" fill="#a9acb6"/>
<rect x="614" y="763.2" width="1" height="13.2" fill="#a9acb6"/>
<rect x="618" y="740.1" width="1" height="59.5" fill="#a9acb6"/>
<rect x="622" y="742.6" width="1" height="16.8" fill="#a9acb6"/>
<rect x="626" y="679.7" width="1" height="66.9" fill="#a9acb6"/>
<rect x="630" y="681.5" width="1" height="16.9" fill="#a9acb6"/>
<rect x="633" y="676.4" width="1" height="20.4" fill="#a9acb6"/>
<rect x="637" y="604.0" width="1" height="81.2" fill="#a9acb6"/>
<rect x="641" y="621.4" width="1" height="15.9" fill="#a9acb6"/>
<rect x="645" y="630.5" width="1" height="74.6" fill="#a9acb6"/>
<rect x="649" y="669.2" width="1" height="63.2" fill="#a9acb6"/>
<rect x="653" y="706.7" width="1" height="64.9" fill="#a9acb6"/>
<rect x="657" y="720.2" width="1" height="16.9" fill="#a9acb6"/>
<rect x="661" y="720.5" width="1" height="13.8" fill="#a9acb6"/>
<rect x="664" y="724.9" width="1" height="73.7" fill="#a9acb6"/>
<rect x="668" y="729.2" width="1" height="39.9" fill="#a9acb6"/>
<rect x="672" y="721.1" width="1" height="66.9" fill="#a9acb6"/>
<rect x="676" y="726.7" width="1" height="48.1" fill="#a9acb6"/>
<rect x="680" y="758.1" width="1" height="34.7" fill="#a9acb6"/>
<rect x="684" y="742.9" width="1" height="20.1" fill="#a9acb6"/>
<rect x="688" y="709.8" width="1" height="37.4" fill="#a9acb6"/>
<rect x="692" y="730.9" width="1" height="15.1" fill="#a9acb6"/>
<rect x="695" y="707.8" width="1" height="32.1" fill="#a9acb6"/>
<rect x="699" y="729.3" width="1" height="21.1" fill="#a9acb6"/>
<rect x="703" y="740.1" width="1" height="33.4" fill="#a9acb6"/>
<rect x="707" y="760.9" width="1" height="69.1" fill="#a9acb6"/>
<rect x="711" y="786.3" width="1" height="65.1" fill="#a9acb6"/>
<rect x="715" y="788.1" width="1" height="26.0" fill="#a9acb6"/>
<rect x="719" y="798.6" width="1" height="16.1" fill="#a9acb6"/>
<rect x="723" y="782.5" width="1" height="40.3" fill="#a9acb6"/>
<rect x="726" y="782.7" width="1" height="24.1" fill="#a9acb6"/>
<rect x="730" y="800.0" width="1" height="22.8" fill="#a9acb6"/>
<rect x="734" y="751.2" width="1" height="53.2" fill="#a9acb6"/>
<rect x="738" y="730.6" width="1" height="28.2" fill="#a9acb6"/>
<rect x="742" y="731.6" width="1" height="32.2" fill="#a9acb6"/>
<rect x="746" y="741.1" width="1" height="22.7" fill="#a9acb6"/>
<rect x="750" y="737.3" width="1" height="14.0" fill="#a9acb6"/>
<rect x="754" y="745.4" width="1" height="140.3" fill="#a9acb6"/>
<rect x="757" y="779.4" width="1" height="54.9" fill="#a9acb6"/>
<rect x="761" y="707.2" width="1" height="86.0" fill="#a9acb6"/>
<rect x="765" y="710.9" width="1" height="19.7" fill="#a9acb6"/>
<rect x="769" y="719.3" width="1" height="20.4" fill="#a9acb6"/>
<rect x="773" y="729.5" width="1" height="24.9" fill="#a9acb6"/>
<rect x="777" y="732.2" width="1" height="14.3" fill="#a9acb6"/>
<rect x="781" y="732.6" width="1" height="41.9" fill="#a9acb6"/>
<rect x="785" y="750.2" width="1" height="26.8" fill="#a9acb6"/>
<rect x="788" y="745.5" width="1" height="9.7" fill="#a9acb6"/>
<rect x="792" y="745.4" width="1" height="19.0" fill="#a9acb6"/>
<rect x="796" y="755.8" width="1" height="12.9" fill="#a9acb6"/>
<rect x="800" y="744.8" width="1" height="23.1" fill="#a9acb6"/>
<rect x="804" y="676.8" width="1" height="74.7" fill="#a9acb6"/>
<rect x="808" y="682.7" width="1" height="18.3" fill="#a9acb6"/>
<rect x="812" y="682.7" width="1" height="20.3" fill="#a9acb6"/>
<rect x="816" y="666.5" width="1" height="35.5" fill="#a9acb6"/>
<rect x="819" y="666.0" width="1" height="21.3" fill="#a9acb6"/>
<rect x="823" y="658.3" width="1" height="21.9" fill="#a9acb6"/>
<rect x="827" y="674.2" width="1" height="18.3" fill="#a9acb6"/>
<rect x="831" y="674.8" width="1" height="18.8" fill="#a9acb6"/>
<rect x="835" y="689.2" width="1" height="21.9" fill="#a9acb6"/>
<rect x="839" y="686.9" width="1" height="7.3" fill="#a9acb6"/>
<rect x="843" y="688.7" width="1" height="6.0" fill="#a9acb6"/>
<rect x="847" y="689.2" width="1" height="3.8" fill="#a9acb6"/>
<rect x="850" y="637.2" width="1" height="55.9" fill="#a9acb6"/>
<rect x="854" y="637.3" width="1" height="16.4" fill="#a9acb6"/>
<rect x="858" y="650.7" width="1" height="11.2" fill="#a9acb6"/>
<rect x="862" y="655.9" width="1" height="15.5" fill="#a9acb6"/>
<rect x="866" y="650.2" width="1" height="22.6" fill="#a9acb6"/>
<rect x="870" y="650.7" width="1" height="23.4" fill="#a9acb6"/>
<rect x="874" y="652.5" width="1" height="14.0" fill="#a9acb6"/>
<rect x="878" y="639.2" width="1" height="20.9" fill="#a9acb6"/>
<rect x="881" y="653.2" width="1" height="17.9" fill="#a9acb6"/>
<rect x="885" y="664.7" width="1" height="21.3" fill="#a9acb6"/>
<rect x="889" y="660.4" width="1" height="21.7" fill="#a9acb6"/>
<rect x="893" y="618.2" width="1" height="59.1" fill="#a9acb6"/>
<rect x="897" y="622.5" width="1" height="13.5" fill="#a9acb6"/>
<rect x="901" y="628.6" width="1" height="31.1" fill="#a9acb6"/>
<rect x="905" y="636.0" width="1" height="23.4" fill="#a9acb6"/>
<rect x="909" y="631.0" width="1" height="22.3" fill="#a9acb6"/>
<rect x="912" y="614.1" width="1" height="26.9" fill="#a9acb6"/>
<rect x="916" y="617.3" width="1" height="6.5" fill="#a9acb6"/>
<rect x="920" y="602.6" width="1" height="23.0" fill="#a9acb6"/>
<rect x="924" y="595.8" width="1" height="63.8" fill="#a9acb6"/>
<rect x="928" y="647.2" width="1" height="28.7" fill="#a9acb6"/>
<rect x="932" y="666.4" width="1" height="51.5" fill="#a9acb6"/>
<rect x="936" y="692.7" width="1" height="12.1" fill="#a9acb6"/>
<rect x="940" y="681.5" width="1" height="21.2" fill="#a9acb6"/>
<rect x="944" y="681.0" width="1" height="11.3" fill="#a9acb6"/>
<rect x="947" y="679.6" width="1" height="22.6" fill="#a9acb6"/>
<rect x="951" y="695.5" width="1" height="44.2" fill="#a9acb6"/>
<rect x="955" y="712.0" width="1" height="21.9" fill="#a9acb6"/>
<rect x="959" y="677.6" width="1" height="37.3" fill="#a9acb6"/>
<rect x="963" y="667.5" width="1" height="32.8" fill="#a9acb6"/>
<rect x="967" y="662.0" width="1" height="27.5" fill="#a9acb6"/>
<rect x="971" y="683.5" width="1" height="10.4" fill="#a9acb6"/>
<rect x="975" y="682.0" width="1" height="11.6" fill="#a9acb6"/>
<rect x="978" y="684.0" width="1" height="12.5" fill="#a9acb6"/>
<rect x="982" y="693.9" width="1" height="13.1" fill="#a9acb6"/>
<rect x="986" y="699.2" width="1" height="9.7" fill="#a9acb6"/>
<rect x="990" y="689.5" width="1" height="31.5" fill="#a9acb6"/>
<rect x="994" y="692.3" width="1" height="4.2" fill="#a9acb6"/>
<rect x="998" y="689.5" width="1" height="19.1" fill="#a9acb6"/>
<rect x="1002" y="697.7" width="1" height="46.3" fill="#a9acb6"/>
<rect x="1006" y="706.4" width="1" height="10.2" fill="#a9acb6"/>
<rect x="1009" y="709.9" width="1" height="6.3" fill="#a9acb6"/>
<rect x="1013" y="699.3" width="1" height="17.3" fill="#a9acb6"/>
<rect x="1017" y="676.4" width="1" height="44.7" fill="#a9acb6"/>
<rect x="1021" y="617.0" width="1" height="77.5" fill="#a9acb6"/>
<rect x="1025" y="610.9" width="1" height="39.0" fill="#a9acb6"/>
<rect x="1029" y="619.2" width="1" height="17.0" fill="#a9acb6"/>
<rect x="1033" y="584.4" width="1" height="51.4" fill="#a9acb6"/>
<rect x="1037" y="583.1" width="1" height="7.5" fill="#a9acb6"/>
<rect x="1040" y="583.4" width="1" height="7.3" fill="#a9acb6"/>
<rect x="1044" y="574.9" width="1" height="29.3" fill="#a9acb6"/>
<rect x="1048" y="574.9" width="1" height="31.8" fill="#a9acb6"/>
<rect x="1052" y="557.0" width="1" height="31.0" fill="#a9acb6"/>
<rect x="1056" y="557.0" width="1" height="39.6" fill="#a9acb6"/>
<rect x="1060" y="582.6" width="1" height="34.2" fill="#a9acb6"/>
<rect x="1064" y="615.1" width="1" height="29.5" fill="#a9acb6"/>
<rect x="1068" y="637.8" width="1" height="18.5" fill="#a9acb6"/>
<rect x="1071" y="652.7" width="1" height="24.8" fill="#a9acb6"/>
<rect x="1075" y="672.6" width="1" height="20.1" fill="#a9acb6"/>
<rect x="1079" y="672.5" width="1" height="38.5" fill="#a9acb6"/>
<rect x="1083" y="665.9" width="1" height="9.3" fill="#a9acb6"/>
<rect x="1087" y="661.8" width="1" height="18.4" fill="#a9acb6"/>
<rect x="1091" y="638.1" width="1" height="36.3" fill="#a9acb6"/>
<rect x="1095" y="624.0" width="1" height="64.7" fill="#a9acb6"/>
<rect x="1099" y="645.7" width="1" height="36.7" fill="#a9acb6"/>
<rect x="1102" y="675.3" width="1" height="73.4" fill="#a9acb6"/>
<rect x="1106" y="743.4" width="1" height="44.6" fill="#a9acb6"/>
<rect x="1110" y="776.8" width="1" height="18.9" fill="#a9acb6"/>
<rect x="1114" y="776.0" width="1" height="41.3" fill="#a9acb6"/>
<rect x="1118" y="802.6" width="1" height="51.1" fill="#a9acb6"/>
<rect x="1122" y="780.9" width="1" height="39.3" fill="#a9acb6"/>
<rect x="1126" y="781.8" width="1" height="35.7" fill="#a9acb6"/>
<rect x="1130" y="789.6" width="1" height="21.5" fill="#a9acb6"/>
<rect x="1133" y="793.8" width="1" height="131.0" fill="#a9acb6"/>
<rect x="1137" y="850.4" width="1" height="48.7" fill="#a9acb6"/>
<rect x="1141" y="855.6" width="1" height="22.8" fill="#a9acb6"/>
<rect x="1145" y="842.5" width="1" height="46.5" fill="#a9acb6"/>
<rect x="1149" y="782.2" width="1" height="71.2" fill="#a9acb6"/>
<rect x="1153" y="811.1" width="1" height="25.8" fill="#a9acb6"/>
<rect x="1157" y="802.9" width="1" height="65.8" fill="#a9acb6"/>
<rect x="1161" y="848.6" width="1" height="7.8" fill="#a9acb6"/>
<rect x="1164" y="831.9" width="1" height="28.5" fill="#a9acb6"/>
<rect x="1168" y="782.0" width="1" height="54.1" fill="#a9acb6"/>
<rect x="1172" y="791.4" width="1" height="7.3" fill="#a9acb6"/>
<rect x="1176" y="792.3" width="1" height="8.5" fill="#a9acb6"/>
<rect x="1180" y="796.3" width="1" height="7.3" fill="#a9acb6"/>
<rect x="1184" y="799.5" width="1" height="13.8" fill="#a9acb6"/>
<rect x="1188" y="779.9" width="1" height="23.1" fill="#a9acb6"/>
<rect x="1192" y="773.9" width="1" height="39.9" fill="#a9acb6"/>
<rect x="1195" y="790.8" width="1" height="22.4" fill="#a9acb6"/>
<rect x="1199" y="804.8" width="1" height="8.2" fill="#a9acb6"/>
<rect x="1203" y="751.0" width="1" height="56.6" fill="#a9acb6"/>
<rect x="1207" y="734.4" width="1" height="21.0" fill="#a9acb6"/>
<rect x="1211" y="710.4" width="1" height="36.2" fill="#a9acb6"/>
<rect x="1215" y="708.4" width="1" height="15.3" fill="#a9acb6"/>
<rect x="1219" y="717.9" width="1" height="8.7" fill="#a9acb6"/>
<rect x="1223" y="705.5" width="1" height="19.6" fill="#a9acb6"/>
<rect x="1226" y="707.0" width="1" height="13.0" fill="#a9acb6"/>
<rect x="1230" y="678.7" width="1" height="40.4" fill="#a9acb6"/>
<rect x="1234" y="699.0" width="1" height="9.4" fill="#a9acb6"/>
<rect x="1238" y="694.3" width="1" height="15.2" fill="#a9acb6"/>
<rect x="1242" y="702.3" width="1" height="7.5" fill="#a9acb6"/>
<rect x="1246" y="701.6" width="1" height="13.3" fill="#a9acb6"/>
<rect x="1250" y="699.6" width="1" height="45.2" fill="#a9acb6"/>
<rect x="1254" y="724.6" width="1" height="12.0" fill="#a9acb6"/>
<rect x="1258" y="674.8" width="1" height="64.2" fill="#a9acb6"/>
<rect x="1261" y="676.9" width="1" height="24.6" fill="#a9acb6"/>
<rect x="1265" y="683.2" width="1" height="15.4" fill="#a9acb6"/>
<rect x="1269" y="684.6" width="1" height="19.3" fill="#a9acb6"/>
<rect x="1273" y="684.5" width="1" height="23.6" fill="#a9acb6"/>
<rect x="1277" y="685.1" width="1" height="16.0" fill="#a9acb6"/>
<rect x="1281" y="697.8" width="1" height="4.5" fill="#a9acb6"/>
<rect x="1285" y="667.5" width="1" height="39.0" fill="#a9acb6"/>
<rect x="1289" y="642.0" width="1" height="35.4" fill="#a9acb6"/>
<rect x="1292" y="652.3" width="1" height="44.5" fill="#a9acb6"/>
<rect x="1296" y="686.7" width="1" height="56.6" fill="#a9acb6"/>
<rect x="1300" y="738.1" width="1" height="13.3" fill="#a9acb6"/>
<rect x="1304" y="736.2" width="1" height="19.5" fill="#a9acb6"/>
<rect x="1308" y="733.5" width="1" height="17.5" fill="#a9acb6"/>
<rect x="1312" y="730.5" width="1" height="25.5" fill="#a9acb6"/>
<rect x="1316" y="727.4" width="1" height="47.3" fill="#a9acb6"/>
<rect x="1320" y="708.8" width="1" height="37.1" fill="#a9acb6"/>
<rect x="1323" y="706.5" width="1" height="46.7" fill="#a9acb6"/>
<rect x="1327" y="727.3" width="1" height="23.2" fill="#a9acb6"/>
<rect x="1331" y="725.8" width="1" height="27.0" fill="#a9acb6"/>
<rect x="1335" y="749.8" width="1" height="12.1" fill="#a9acb6"/>
<rect x="1339" y="746.1" width="1" height="46.8" fill="#a9acb6"/>
<rect x="1343" y="764.6" width="1" height="26.7" fill="#a9acb6"/>
<rect x="1347" y="771.3" width="1" height="5.7" fill="#a9acb6"/>
<rect x="1351" y="762.6" width="1" height="38.6" fill="#a9acb6"/>
<rect x="1354" y="792.9" width="1" height="7.6" fill="#a9acb6"/>
<rect x="1358" y="773.7" width="1" height="31.6" fill="#a9acb6"/>
<rect x="1362" y="774.2" width="1" height="12.6" fill="#a9acb6"/>
<rect x="1366" y="779.9" width="1" height="54.1" fill="#a9acb6"/>
<rect x="1370" y="808.1" width="1" height="19.7" fill="#a9acb6"/>
<rect x="1374" y="791.7" width="1" height="21.3" fill="#a9acb6"/>
<rect x="1378" y="785.1" width="1" height="10.7" fill="#a9acb6"/>
<rect x="1382" y="783.5" width="1" height="28.3" fill="#a9acb6"/>
<rect x="1385" y="801.7" width="1" height="24.9" fill="#a9acb6"/>
<rect x="1389" y="788.7" width="1" height="23.6" fill="#a9acb6"/>
<rect x="1393" y="782.0" width="1" height="22.0" fill="#a9acb6"/>
<rect x="1397" y="774.3" width="1" height="21.8" fill="#a9acb6"/>
<rect x="1401" y="751.0" width="1" height="39.2" fill="#a9acb6"/>
<rect x="1405" y="763.7" width="1" height="8.6" fill="#a9acb6"/>
<rect x="1409" y="768.9" width="1" height="5.1" fill="#a9acb6"/>
<rect x="1413" y="755.2" width="1" height="29.5" fill="#a9acb6"/>
<rect x="1416" y="764.0" width="1" height="5.0" fill="#a9acb6"/>
<rect x="1420" y="763.7" width="1" height="89.0" fill="#a9acb6"/>
<rect x="1424" y="834.5" width="1" height="43.3" fill="#a9acb6"/>
<rect x="1428" y="866.8" width="1" height="4.9" fill="#a9acb6"/>
<rect x="1432" y="847.2" width="1" height="30.9" fill="#a9acb6"/>
<rect x="1436" y="844.4" width="1" height="31.8" fill="#a9acb6"/>
<rect x="1440" y="839.5" width="1" height="14.0" fill="#a9acb6"/>
<rect x="1444" y="849.5" width="1" height="19.2" fill="#a9acb6"/>
<rect x="1447" y="850.1" width="1" height="22.5" fill="#a9acb6"/>
<rect x="1451" y="856.3" width="1" height="8.1" fill="#a9acb6"/>
<rect x="1455" y="831.4" width="1" height="32.2" fill="#a9acb6"/>
<rect x="1459" y="840.5" width="1" height="8.3" fill="#a9acb6"/>
<rect x="1463" y="846.0" width="1" height="11.7" fill="#a9acb6"/>
<rect x="1467" y="837.0" width="1" height="19.4" fill="#a9acb6"/>
<rect x="1471" y="831.2" width="1" height="19.6" fill="#a9acb6"/>
<rect x="1475" y="841.6" width="1" height="22.0" fill="#a9acb6"/>
<rect x="1478" y="837.0" width="1" height="21.5" fill="#a9acb6"/>
<rect x="1482" y="841.2" width="1" height="6.4" fill="#a9acb6"/>
<rect x="1486" y="823.7" width="1" height="30.4" fill="#a9acb6"/>
<rect x="1490" y="831.4" width="1" height="18.3" fill="#a9acb6"/>
<rect x="1494" y="834.2" width="1" height="13.6" fill="#a9acb6"/>
<rect x="1498" y="840.5" width="1" height="43.2" fill="#a9acb6"/>
<rect x="1502" y="869.5" width="1" height="18.5" fill="#a9acb6"/>
<rect x="1506" y="809.8" width="1" height="73.5" fill="#a9acb6"/>
<rect x="1509" y="795.9" width="1" height="24.1" fill="#a9acb6"/>
<rect x="1513" y="812.1" width="1" height="25.9" fill="#a9acb6"/>
<rect x="1517" y="824.9" width="1" height="12.2" fill="#a9acb6"/>
<rect x="1521" y="812.1" width="1" height="27.8" fill="#a9acb6"/>
<rect x="1525" y="822.4" width="1" height="11.4" fill="#a9acb6"/>
<rect x="1529" y="825.3" width="1" height="5.6" fill="#a9acb6"/>
<rect x="1533" y="827.9" width="1" height="13.0" fill="#a9acb6"/>
<rect x="1537" y="824.2" width="1" height="49.3" fill="#a9acb6"/>
<rect x="1541" y="843.7" width="1" height="16.2" fill="#a9acb6"/>
<rect x="1544" y="857.2" width="1" height="15.1" fill="#a9acb6"/>
<rect x="1548" y="856.6" width="1" height="35.3" fill="#a9acb6"/>
<rect x="1552" y="866.1" width="1" height="18.7" fill="#a9acb6"/>
<rect x="1556" y="865.9" width="1" height="15.9" fill="#a9acb6"/>
<rect x="1560" y="861.9" width="1" height="27.1" fill="#a9acb6"/>
<rect x="1564" y="852.4" width="1" height="26.5" fill="#a9acb6"/>
<rect x="1568" y="852.0" width="1" height="15.3" fill="#a9acb6"/>
<rect x="1572" y="841.3" width="1" height="26.0" fill="#a9acb6"/>
<rect x="1575" y="807.0" width="1" height="60.6" fill="#a9acb6"/>
<rect x="1579" y="795.7" width="1" height="14.7" fill="#a9acb6"/>
<rect x="1583" y="773.4" width="1" height="35.5" fill="#a9acb6"/>
<rect x="1587" y="765.5" width="1" height="10.6" fill="#a9acb6"/>
<rect x="1591" y="766.4" width="1" height="27.1" fill="#a9acb6"/>
<rect x="1595" y="783.8" width="1" height="23.4" fill="#a9acb6"/>
<rect x="1599" y="776.7" width="1" height="29.3" fill="#a9acb6"/>
<rect x="1603" y="783.3" width="1" height="3.9" fill="#a9acb6"/>
<rect x="1606" y="784.8" width="1" height="52.9" fill="#a9acb6"/>
<rect x="1610" y="823.8" width="1" height="19.4" fill="#a9acb6"/>
<rect x="1614" y="827.3" width="1" height="11.6" fill="#a9acb6"/>
<rect x="1618" y="825.7" width="1" height="19.4" fill="#a9acb6"/>
<rect x="1622" y="820.4" width="1" height="18.6" fill="#a9acb6"/>
<rect x="1626" y="821.5" width="1" height="8.6" fill="#a9acb6"/>
<rect x="1630" y="751.4" width="1" height="79.6" fill="#a9acb6"/>
<rect x="1634" y="767.3" width="1" height="7.7" fill="#a9acb6"/>
<rect x="1637" y="721.5" width="1" height="51.4" fill="#a9acb6"/>
<rect x="1641" y="709.3" width="1" height="25.6" fill="#a9acb6"/>
<rect x="1645" y="728.2" width="1" height="15.0" fill="#a9acb6"/>
<rect x="1649" y="723.2" width="1" height="8.9" fill="#a9acb6"/>
<rect x="1653" y="720.6" width="1" height="26.5" fill="#a9acb6"/>
<rect x="1657" y="719.9" width="1" height="7.3" fill="#a9acb6"/>
<rect x="1661" y="708.0" width="1" height="22.7" fill="#a9acb6"/>
<rect x="1665" y="692.9" width="1" height="23.1" fill="#a9acb6"/>
<rect x="1668" y="696.0" width="1" height="32.2" fill="#a9acb6"/>
<rect x="1672" y="705.8" width="1" height="25.7" fill="#a9acb6"/>
<rect x="1676" y="708.0" width="1" height="7.6" fill="#a9acb6"/>
<rect x="1680" y="705.7" width="1" height="4.9" fill="#a9acb6"/>
<rect x="1684" y="686.2" width="1" height="25.4" fill="#a9acb6"/>
<rect x="1688" y="689.6" width="1" height="24.1" fill="#a9acb6"/>
<rect x="1692" y="702.9" width="1" height="18.6" fill="#a9acb6"/>
<rect x="1696" y="716.1" width="1" height="13.2" fill="#a9acb6"/>
<rect x="1699" y="710.6" width="1" height="28.6" fill="#a9acb6"/>
<rect x="1703" y="733.8" width="1" height="12.0" fill="#a9acb6"/>
<rect x="1707" y="738.1" width="1" height="5.5" fill="#a9acb6"/>
<rect x="1711" y="738.5" width="1" height="15.2" fill="#a9acb6"/>
<rect x="1715" y="726.2" width="1" height="31.0" fill="#a9acb6"/>
<rect x="1719" y="697.1" width="1" height="32.8" fill="#a9acb6"/>
<rect x="1723" y="705.2" width="1" height="40.8" fill="#a9acb6"/>
<rect x="1727" y="719.3" width="1" height="10.1" fill="#a9acb6"/>
<rect x="1730" y="725.6" width="1" height="6.8" fill="#a9acb6"/>
<rect x="1734" y="687.8" width="1" height="47.1" fill="#a9acb6"/>
<rect x="1738" y="424.0" width="1" height="271.6" fill="#a9acb6"/>
<rect x="1742" y="371.8" width="1" height="100.0" fill="#a9acb6"/>
<rect x="1746" y="362.1" width="1" height="13.5" fill="#a9acb6"/>
<rect x="1750" y="365.2" width="1" height="23.9" fill="#a9acb6"/>
<rect x="1754" y="374.5" width="1" height="10.8" fill="#a9acb6"/>
<rect x="1758" y="283.5" width="1" height="108.0" fill="#a9acb6"/>
<rect x="1761" y="277.7" width="1" height="37.8" fill="#a9acb6"/>
<rect x="1765" y="274.8" width="1" height="62.8" fill="#a9acb6"/>
<rect x="1769" y="318.0" width="1" height="44.7" fill="#a9acb6"/>
<rect x="1773" y="283.0" width="1" height="45.4" fill="#a9acb6"/>
<rect x="1777" y="294.8" width="1" height="7.9" fill="#a9acb6"/>
<rect x="1781" y="290.0" width="1" height="41.8" fill="#a9acb6"/>
<rect x="1785" y="311.2" width="1" height="17.9" fill="#a9acb6"/>
<rect x="1789" y="311.3" width="1" height="46.7" fill="#a9acb6"/>
<rect x="1792" y="298.0" width="1" height="79.8" fill="#a9acb6"/>
<rect x="1796" y="327.1" width="1" height="8.0" fill="#a9acb6"/>
<rect x="1800" y="308.0" width="1" height="34.2" fill="#a9acb6"/>
<rect x="1804" y="323.9" width="1" height="13.0" fill="#a9acb6"/>
<rect x="1808" y="305.0" width="1" height="30.7" fill="#a9acb6"/>
<rect x="1812" y="313.6" width="1" height="4.6" fill="#a9acb6"/>
<rect x="1816" y="288.7" width="1" height="39.5" fill="#a9acb6"/>
<rect x="1820" y="219.8" width="1" height="76.2" fill="#a9acb6"/>
<rect x="1823" y="224.7" width="1" height="109.3" fill="#a9acb6"/>
<rect x="1827" y="304.5" width="1" height="25.5" fill="#a9acb6"/>
<rect x="1831" y="295.0" width="1" height="155.0" fill="#a9acb6"/>
<rect x="1835" y="243.0" width="1" height="80.7" fill="#a9acb6"/>
<rect x="1839" y="281.0" width="1" height="28.1" fill="#a9acb6"/>
<rect x="1843" y="274.3" width="1" height="68.7" fill="#a9acb6"/>
<rect x="1847" y="328.9" width="1" height="62.8" fill="#a9acb6"/>
<rect x="1851" y="338.7" width="1" height="45.3" fill="#a9acb6"/>
<rect x="1855" y="342.3" width="1" height="16.5" fill="#a9acb6"/>
<rect x="1858" y="339.1" width="1" height="12.4" fill="#a9acb6"/>
<rect x="1862" y="332.0" width="1" height="17.3" fill="#a9acb6"/>
<rect x="1866" y="330.3" width="1" height="10.9" fill="#a9acb6"/>
<rect x="1870" y="332.8" width="1" height="7.4" fill="#a9acb6"/>
<rect x="1874" y="317.3" width="1" height="27.7" fill="#a9acb6"/>
<rect x="1878" y="321.7" width="1" height="11.6" fill="#a9acb6"/>
<rect x="1882" y="323.0" width="1" height="7.9" fill="#a9acb6"/>
<rect x="1886" y="317.7" width="1" height="13.5" fill="#a9acb6"/>
<rect x="1889" y="321.0" width="1" height="13.6" fill="#a9acb6"/>
<rect x="1893" y="321.6" width="1" height="11.1" fill="#a9acb6"/>
<rect x="1897" y="320.9" width="1" height="9.7" fill="#a9acb6"/>
<rect x="1901" y="320.9" width="1" height="16.8" fill="#a9acb6"/>
<rect x="1905" y="316.0" width="1" height="19.6" fill="#a9acb6"/>
<rect x="1909" y="299.4" width="1" height="24.5" fill="#a9acb6"/>
<rect x="1913" y="286.1" width="1" height="16.2" fill="#a9acb6"/>
<rect x="1917" y="251.0" width="1" height="45.8" fill="#a9acb6"/>
<rect x="1920" y="252.0" width="1" height="22.6" fill="#a9acb6"/>
<rect x="1924" y="261.1" width="1" height="13.1" fill="#a9acb6"/>
<rect x="1928" y="262.9" width="1" height="23.5" fill="#a9acb6"/>
<rect x="1932" y="222.0" width="1" height="64.5" fill="#a9acb6"/>
<rect x="1936" y="228.5" width="1" height="13.5" fill="#a9acb6"/>
<rect x="1940" y="231.4" width="1" height="10.8" fill="#a9acb6"/>
<rect x="1944" y="230.2" width="1" height="20.2" fill="#a9acb6"/>
<rect x="1948" y="214.0" width="1" height="30.0" fill="#a9acb6"/>
<rect x="1951" y="202.0" width="1" height="24.5" fill="#a9acb6"/>
<rect x="1955" y="212.0" width="1" height="54.0" fill="#a9acb6"/>
<rect x="1959" y="240.2" width="1" height="28.5" fill="#a9acb6"/>
<rect x="1963" y="242.5" width="1" height="28.6" fill="#a9acb6"/>
<rect x="1967" y="261.2" width="1" height="23.9" fill="#a9acb6"/>
<rect x="1971" y="251.9" width="1" height="29.4" fill="#a9acb6"/>
<rect x="1975" y="228.0" width="1" height="28.7" fill="#a9acb6"/>
<rect x="1979" y="234.0" width="1" height="45.0" fill="#a9acb6"/>
<rect x="1982" y="265.5" width="1" height="23.2" fill="#a9acb6"/>
<rect x="1986" y="274.1" width="1" height="38.8" fill="#a9acb6"/>
<rect x="1990" y="264.9" width="1" height="17.3" fill="#a9acb6"/>
<rect x="1994" y="267.0" width="1" height="9.1" fill="#a9acb6"/>
<rect x="1998" y="251.0" width="1" height="35.5" fill="#a9acb6"/>
<rect x="2002" y="258.7" width="1" height="48.3" fill="#a9acb6"/>
<rect x="2006" y="288.9" width="1" height="11.6" fill="#a9acb6"/>
<rect x="2010" y="291.3" width="1" height="32.7" fill="#a9acb6"/>
<rect x="2013" y="309.6" width="1" height="17.4" fill="#a9acb6"/>
<rect x="2017" y="313.0" width="1" height="15.0" fill="#a9acb6"/>
<rect x="2021" y="315.5" width="1" height="14.7" fill="#a9acb6"/>
<rect x="2025" y="309.0" width="1" height="12.2" fill="#a9acb6"/>
<rect x="2029" y="298.0" width="1" height="15.0" fill="#a9acb6"/>
<rect x="2033" y="297.9" width="1" height="52.8" fill="#a9acb6"/>
<rect x="2037" y="328.5" width="1" height="15.5" fill="#a9acb6"/>
<rect x="16" y="379.1" width="3" height="11.9" fill="#089981"/>
<rect x="20" y="379.1" width="3" height="11.9" fill="#f23645"/>
<rect x="24" y="391.0" width="3" height="23.0" fill="#f23645"/>
<rect x="28" y="414.0" width="3" height="5.1" fill="#f23645"/>
<rect x="32" y="419.1" width="3" height="5.1" fill="#f23645"/>
<rect x="35" y="417.8" width="3" height="6.4" fill="#089981"/>
<rect x="39" y="400.0" width="3" height="17.8" fill="#089981"/>
<rect x="43" y="400.0" width="3" height="2.5" fill="#f23645"/>
<rect x="47" y="402.5" width="3" height="37.0" fill="#f23645"/>
<rect x="51" y="419.1" width="3" height="20.4" fill="#089981"/>
<rect x="55" y="419.1" width="3" height="16.5" fill="#f23645"/>
<rect x="59" y="435.6" width="3" height="35.7" fill="#f23645"/>
<rect x="63" y="462.4" width="3" height="8.9" fill="#089981"/>
<rect x="66" y="462.4" width="3" height="7.6" fill="#f23645"/>
<rect x="70" y="470.0" width="3" height="12.8" fill="#f23645"/>
<rect x="74" y="449.7" width="3" height="33.1" fill="#089981"/>
<rect x="78" y="424.2" width="3" height="25.5" fill="#089981"/>
<rect x="82" y="422.1" width="3" height="2.1" fill="#089981"/>
<rect x="86" y="405.8" width="3" height="16.3" fill="#089981"/>
<rect x="90" y="405.8" width="3" height="32.4" fill="#f23645"/>
<rect x="94" y="431.3" width="3" height="6.9" fill="#089981"/>
<rect x="97" y="431.3" width="3" height="1.0" fill="#f23645"/>
<rect x="101" y="431.3" width="3" height="1.0" fill="#089981"/>
<rect x="105" y="431.3" width="3" height="3.1" fill="#f23645"/>
<rect x="109" y="434.4" width="3" height="12.7" fill="#f23645"/>
<rect x="113" y="439.5" width="3" height="7.6" fill="#089981"/>
<rect x="117" y="439.5" width="3" height="3.8" fill="#f23645"/>
<rect x="121" y="443.3" width="3" height="33.6" fill="#f23645"/>
<rect x="125" y="469.5" width="3" height="7.4" fill="#089981"/>
<rect x="128" y="461.1" width="3" height="8.4" fill="#089981"/>
<rect x="132" y="461.1" width="3" height="3.9" fill="#f23645"/>
<rect x="136" y="462.4" width="3" height="2.6" fill="#089981"/>
<rect x="140" y="462.4" width="3" height="2.6" fill="#f23645"/>
<rect x="144" y="430.6" width="3" height="34.4" fill="#089981"/>
<rect x="148" y="430.6" width="3" height="16.5" fill="#f23645"/>
<rect x="152" y="447.1" width="3" height="1.3" fill="#f23645"/>
<rect x="156" y="448.4" width="3" height="16.6" fill="#f23645"/>
<rect x="159" y="465.0" width="3" height="1.0" fill="#f23645"/>
<rect x="163" y="449.7" width="3" height="15.8" fill="#089981"/>
<rect x="167" y="406.9" width="3" height="42.8" fill="#089981"/>
<rect x="171" y="399.2" width="3" height="7.7" fill="#089981"/>
<rect x="175" y="399.2" width="3" height="5.9" fill="#f23645"/>
<rect x="179" y="396.1" width="3" height="9.0" fill="#089981"/>
<rect x="183" y="394.1" width="3" height="2.0" fill="#089981"/>
<rect x="187" y="390.3" width="3" height="3.8" fill="#089981"/>
<rect x="190" y="383.4" width="3" height="6.9" fill="#089981"/>
<rect x="194" y="383.4" width="3" height="19.6" fill="#f23645"/>
<rect x="198" y="403.0" width="3" height="56.9" fill="#f23645"/>
<rect x="202" y="447.1" width="3" height="12.8" fill="#089981"/>
<rect x="206" y="444.1" width="3" height="3.0" fill="#089981"/>
<rect x="210" y="444.1" width="3" height="20.0" fill="#f23645"/>
<rect x="214" y="464.1" width="3" height="39.6" fill="#f23645"/>
<rect x="218" y="470.0" width="3" height="33.7" fill="#089981"/>
<rect x="221" y="465.0" width="3" height="5.0" fill="#089981"/>
<rect x="225" y="465.0" width="3" height="83.7" fill="#f23645"/>
<rect x="229" y="547.0" width="3" height="1.7" fill="#089981"/>
<rect x="233" y="547.0" width="3" height="20.8" fill="#f23645"/>
<rect x="237" y="567.8" width="3" height="18.9" fill="#f23645"/>
<rect x="241" y="586.7" width="3" height="10.0" fill="#f23645"/>
<rect x="245" y="596.7" width="3" height="14.1" fill="#f23645"/>
<rect x="249" y="608.9" width="3" height="1.9" fill="#089981"/>
<rect x="252" y="605.0" width="3" height="3.9" fill="#089981"/>
<rect x="256" y="584.8" width="3" height="20.2" fill="#089981"/>
<rect x="260" y="584.8" width="3" height="11.2" fill="#f23645"/>
<rect x="264" y="563.0" width="3" height="33.0" fill="#089981"/>
<rect x="268" y="563.0" width="3" height="17.0" fill="#f23645"/>
<rect x="272" y="554.3" width="3" height="25.7" fill="#089981"/>
<rect x="276" y="554.3" width="3" height="21.7" fill="#f23645"/>
<rect x="280" y="576.0" width="3" height="10.7" fill="#f23645"/>
<rect x="283" y="583.8" width="3" height="2.9" fill="#089981"/>
<rect x="287" y="583.8" width="3" height="23.2" fill="#f23645"/>
<rect x="291" y="593.0" width="3" height="14.0" fill="#089981"/>
<rect x="295" y="572.2" width="3" height="20.8" fill="#089981"/>
<rect x="299" y="566.4" width="3" height="5.8" fill="#089981"/>
<rect x="303" y="540.0" width="3" height="26.4" fill="#089981"/>
<rect x="307" y="521.0" width="3" height="19.0" fill="#089981"/>
<rect x="311" y="521.0" width="3" height="55.6" fill="#f23645"/>
<rect x="314" y="573.2" width="3" height="3.4" fill="#089981"/>
<rect x="318" y="573.2" width="3" height="38.6" fill="#f23645"/>
<rect x="322" y="608.3" width="3" height="3.5" fill="#089981"/>
<rect x="326" y="604.0" width="3" height="4.3" fill="#089981"/>
<rect x="330" y="604.0" width="3" height="24.8" fill="#f23645"/>
<rect x="334" y="580.0" width="3" height="48.8" fill="#089981"/>
<rect x="338" y="580.0" width="3" height="3.8" fill="#f23645"/>
<rect x="342" y="569.3" width="3" height="14.5" fill="#089981"/>
<rect x="346" y="569.3" width="3" height="11.6" fill="#f23645"/>
<rect x="349" y="577.4" width="3" height="3.5" fill="#089981"/>
<rect x="353" y="568.0" width="3" height="9.4" fill="#089981"/>
<rect x="357" y="564.5" width="3" height="3.5" fill="#089981"/>
<rect x="361" y="564.5" width="3" height="7.3" fill="#f23645"/>
<rect x="365" y="569.3" width="3" height="2.5" fill="#089981"/>
<rect x="369" y="565.5" width="3" height="3.8" fill="#089981"/>
<rect x="373" y="551.4" width="3" height="14.1" fill="#089981"/>
<rect x="377" y="551.4" width="3" height="8.3" fill="#f23645"/>
<rect x="380" y="539.4" width="3" height="20.3" fill="#089981"/>
<rect x="384" y="530.1" width="3" height="9.3" fill="#089981"/>
<rect x="388" y="530.1" width="3" height="8.7" fill="#f23645"/>
<rect x="392" y="535.0" width="3" height="3.8" fill="#089981"/>
<rect x="396" y="524.0" width="3" height="11.0" fill="#089981"/>
<rect x="400" y="524.0" width="3" height="13.9" fill="#f23645"/>
<rect x="404" y="527.8" width="3" height="10.1" fill="#089981"/>
<rect x="408" y="496.0" width="3" height="31.8" fill="#089981"/>
<rect x="411" y="496.0" width="3" height="18.9" fill="#f23645"/>
<rect x="415" y="511.4" width="3" height="3.5" fill="#089981"/>
<rect x="419" y="411.4" width="3" height="100.0" fill="#089981"/>
<rect x="423" y="391.0" width="3" height="20.4" fill="#089981"/>
<rect x="427" y="383.9" width="3" height="7.1" fill="#089981"/>
<rect x="431" y="369.9" width="3" height="14.0" fill="#089981"/>
<rect x="435" y="357.2" width="3" height="12.7" fill="#089981"/>
<rect x="439" y="355.4" width="3" height="1.8" fill="#089981"/>
<rect x="442" y="349.0" width="3" height="6.4" fill="#089981"/>
<rect x="446" y="349.0" width="3" height="7.6" fill="#f23645"/>
<rect x="450" y="356.6" width="3" height="37.5" fill="#f23645"/>
<rect x="454" y="390.5" width="3" height="3.6" fill="#089981"/>
<rect x="458" y="390.5" width="3" height="66.3" fill="#f23645"/>
<rect x="462" y="456.8" width="3" height="11.2" fill="#f23645"/>
<rect x="466" y="461.1" width="3" height="6.9" fill="#089981"/>
<rect x="470" y="461.1" width="3" height="4.6" fill="#f23645"/>
<rect x="473" y="465.7" width="3" height="16.3" fill="#f23645"/>
<rect x="477" y="449.2" width="3" height="32.8" fill="#089981"/>
<rect x="481" y="449.2" width="3" height="9.4" fill="#f23645"/>
<rect x="485" y="456.0" width="3" height="2.6" fill="#089981"/>
<rect x="489" y="456.0" width="3" height="21.0" fill="#f23645"/>
<rect x="493" y="458.0" width="3" height="19.0" fill="#089981"/>
<rect x="497" y="458.0" width="3" height="2.6" fill="#f23645"/>
<rect x="501" y="441.3" width="3" height="19.3" fill="#089981"/>
<rect x="504" y="429.3" width="3" height="12.0" fill="#089981"/>
<rect x="508" y="429.3" width="3" height="2.5" fill="#f23645"/>
<rect x="512" y="405.0" width="3" height="26.8" fill="#089981"/>
<rect x="516" y="405.0" width="3" height="50.5" fill="#f23645"/>
<rect x="520" y="455.5" width="3" height="16.3" fill="#f23645"/>
<rect x="524" y="459.9" width="3" height="11.9" fill="#089981"/>
<rect x="528" y="454.0" width="3" height="5.9" fill="#089981"/>
<rect x="532" y="454.0" width="3" height="13.5" fill="#f23645"/>
<rect x="535" y="456.0" width="3" height="11.5" fill="#089981"/>
<rect x="539" y="443.3" width="3" height="12.7" fill="#089981"/>
<rect x="543" y="443.3" width="3" height="10.7" fill="#f23645"/>
<rect x="547" y="450.4" width="3" height="3.6" fill="#089981"/>
<rect x="551" y="450.4" width="3" height="54.1" fill="#f23645"/>
<rect x="555" y="504.5" width="3" height="72.5" fill="#f23645"/>
<rect x="559" y="577.0" width="3" height="62.8" fill="#f23645"/>
<rect x="563" y="630.4" width="3" height="9.4" fill="#089981"/>
<rect x="566" y="630.4" width="3" height="17.2" fill="#f23645"/>
<rect x="570" y="623.3" width="3" height="24.3" fill="#089981"/>
<rect x="574" y="621.9" width="3" height="1.4" fill="#089981"/>
<rect x="578" y="610.9" width="3" height="11.0" fill="#089981"/>
<rect x="582" y="610.9" width="3" height="4.8" fill="#f23645"/>
<rect x="586" y="615.7" width="3" height="45.8" fill="#f23645"/>
<rect x="590" y="661.5" width="3" height="189.5" fill="#f23645"/>
<rect x="594" y="782.2" width="3" height="68.8" fill="#089981"/>
<rect x="597" y="782.2" width="3" height="38.6" fill="#f23645"/>
<rect x="601" y="733.9" width="3" height="86.9" fill="#089981"/>
<rect x="605" y="733.9" width="3" height="10.1" fill="#f23645"/>
<rect x="609" y="744.0" width="3" height="28.6" fill="#f23645"/>
<rect x="613" y="765.8" width="3" height="6.8" fill="#089981"/>
<rect x="617" y="756.1" width="3" height="9.7" fill="#089981"/>
<rect x="621" y="744.0" width="3" height="12.1" fill="#089981"/>
<rect x="625" y="683.1" width="3" height="60.9" fill="#089981"/>
<rect x="629" y="683.1" width="3" height="12.8" fill="#f23645"/>
<rect x="632" y="681.8" width="3" height="14.1" fill="#089981"/>
<rect x="636" y="622.3" width="3" height="59.5" fill="#089981"/>
<rect x="640" y="622.3" width="3" height="12.5" fill="#f23645"/>
<rect x="644" y="634.8" width="3" height="66.3" fill="#f23645"/>
<rect x="648" y="701.1" width="3" height="12.0" fill="#f23645"/>
<rect x="652" y="713.1" width="3" height="21.8" fill="#f23645"/>
<rect x="656" y="721.4" width="3" height="13.5" fill="#089981"/>
<rect x="660" y="721.4" width="3" height="5.4" fill="#f23645"/>
<rect x="663" y="726.8" width="3" height="30.9" fill="#f23645"/>
<rect x="667" y="732.0" width="3" height="25.7" fill="#089981"/>
<rect x="671" y="728.1" width="3" height="3.9" fill="#089981"/>
<rect x="675" y="728.1" width="3" height="34.8" fill="#f23645"/>
<rect x="679" y="761.9" width="3" height="1.0" fill="#089981"/>
<rect x="683" y="744.0" width="3" height="17.9" fill="#089981"/>
<rect x="687" y="733.0" width="3" height="11.0" fill="#089981"/>
<rect x="691" y="732.0" width="3" height="1.0" fill="#089981"/>
<rect x="694" y="730.4" width="3" height="1.6" fill="#089981"/>
<rect x="698" y="730.4" width="3" height="10.7" fill="#f23645"/>
<rect x="702" y="741.1" width="3" height="22.8" fill="#f23645"/>
<rect x="706" y="763.9" width="3" height="42.1" fill="#f23645"/>
<rect x="710" y="790.0" width="3" height="16.0" fill="#089981"/>
<rect x="714" y="790.0" width="3" height="22.7" fill="#f23645"/>
<rect x="718" y="802.1" width="3" height="10.6" fill="#089981"/>
<rect x="722" y="783.7" width="3" height="18.4" fill="#089981"/>
<rect x="725" y="783.7" width="3" height="21.3" fill="#f23645"/>
<rect x="729" y="802.1" width="3" height="2.9" fill="#089981"/>
<rect x="733" y="757.1" width="3" height="45.0" fill="#089981"/>
<rect x="737" y="733.9" width="3" height="23.2" fill="#089981"/>
<rect x="741" y="733.9" width="3" height="29.0" fill="#f23645"/>
<rect x="745" y="742.9" width="3" height="20.0" fill="#089981"/>
<rect x="749" y="742.9" width="3" height="4.1" fill="#f23645"/>
<rect x="753" y="747.0" width="3" height="86.0" fill="#f23645"/>
<rect x="756" y="790.0" width="3" height="43.0" fill="#089981"/>
<rect x="760" y="714.2" width="3" height="75.8" fill="#089981"/>
<rect x="764" y="714.2" width="3" height="7.7" fill="#f23645"/>
<rect x="768" y="721.9" width="3" height="13.9" fill="#f23645"/>
<rect x="772" y="734.5" width="3" height="1.3" fill="#089981"/>
<rect x="776" y="734.5" width="3" height="3.3" fill="#f23645"/>
<rect x="780" y="737.8" width="3" height="15.1" fill="#f23645"/>
<rect x="784" y="752.9" width="3" height="1.0" fill="#f23645"/>
<rect x="787" y="746.5" width="3" height="7.3" fill="#089981"/>
<rect x="791" y="746.5" width="3" height="11.2" fill="#f23645"/>
<rect x="795" y="757.7" width="3" height="1.3" fill="#f23645"/>
<rect x="799" y="745.9" width="3" height="13.1" fill="#089981"/>
<rect x="803" y="685.0" width="3" height="60.9" fill="#089981"/>
<rect x="807" y="684.7" width="3" height="1.0" fill="#089981"/>
<rect x="811" y="684.7" width="3" height="1.0" fill="#f23645"/>
<rect x="815" y="667.9" width="3" height="17.3" fill="#089981"/>
<rect x="818" y="667.9" width="3" height="4.2" fill="#f23645"/>
<rect x="822" y="672.1" width="3" height="3.9" fill="#f23645"/>
<rect x="826" y="676.0" width="3" height="1.0" fill="#f23645"/>
<rect x="830" y="676.9" width="3" height="13.9" fill="#f23645"/>
<rect x="834" y="690.0" width="3" height="1.0" fill="#089981"/>
<rect x="838" y="690.0" width="3" height="1.0" fill="#f23645"/>
<rect x="842" y="690.3" width="3" height="1.0" fill="#f23645"/>
<rect x="846" y="690.0" width="3" height="1.0" fill="#089981"/>
<rect x="849" y="638.3" width="3" height="51.7" fill="#089981"/>
<rect x="853" y="638.3" width="3" height="14.5" fill="#f23645"/>
<rect x="857" y="652.8" width="3" height="7.1" fill="#f23645"/>
<rect x="861" y="659.9" width="3" height="7.4" fill="#f23645"/>
<rect x="865" y="656.0" width="3" height="11.3" fill="#089981"/>
<rect x="869" y="656.0" width="3" height="8.0" fill="#f23645"/>
<rect x="873" y="655.1" width="3" height="8.9" fill="#089981"/>
<rect x="877" y="655.1" width="3" height="3.5" fill="#f23645"/>
<rect x="880" y="658.6" width="3" height="7.1" fill="#f23645"/>
<rect x="884" y="665.7" width="3" height="11.2" fill="#f23645"/>
<rect x="888" y="669.2" width="3" height="7.7" fill="#089981"/>
<rect x="892" y="623.8" width="3" height="45.4" fill="#089981"/>
<rect x="896" y="623.8" width="3" height="8.1" fill="#f23645"/>
<rect x="900" y="631.9" width="3" height="19.0" fill="#f23645"/>
<rect x="904" y="642.7" width="3" height="8.2" fill="#089981"/>
<rect x="908" y="635.0" width="3" height="7.7" fill="#089981"/>
<rect x="911" y="619.0" width="3" height="16.0" fill="#089981"/>
<rect x="915" y="619.0" width="3" height="3.8" fill="#f23645"/>
<rect x="919" y="603.9" width="3" height="18.9" fill="#089981"/>
<rect x="923" y="603.9" width="3" height="47.0" fill="#f23645"/>
<rect x="927" y="650.9" width="3" height="19.8" fill="#f23645"/>
<rect x="931" y="670.7" width="3" height="33.3" fill="#f23645"/>
<rect x="935" y="695.9" width="3" height="8.1" fill="#089981"/>
<rect x="939" y="688.1" width="3" height="7.8" fill="#089981"/>
<rect x="943" y="684.3" width="3" height="3.8" fill="#089981"/>
<rect x="946" y="684.3" width="3" height="16.8" fill="#f23645"/>
<rect x="950" y="701.1" width="3" height="14.9" fill="#f23645"/>
<rect x="954" y="713.1" width="3" height="2.9" fill="#089981"/>
<rect x="958" y="683.1" width="3" height="30.0" fill="#089981"/>
<rect x="962" y="673.1" width="3" height="10.0" fill="#089981"/>
<rect x="966" y="673.1" width="3" height="13.5" fill="#f23645"/>
<rect x="970" y="686.6" width="3" height="1.4" fill="#f23645"/>
<rect x="974" y="688.0" width="3" height="1.0" fill="#f23645"/>
<rect x="977" y="688.5" width="3" height="6.8" fill="#f23645"/>
<rect x="981" y="695.3" width="3" height="9.6" fill="#f23645"/>
<rect x="985" y="704.9" width="3" height="1.6" fill="#f23645"/>
<rect x="989" y="693.3" width="3" height="13.2" fill="#089981"/>
<rect x="993" y="693.3" width="3" height="1.0" fill="#f23645"/>
<rect x="997" y="694.3" width="3" height="8.3" fill="#f23645"/>
<rect x="1001" y="702.6" width="3" height="7.2" fill="#f23645"/>
<rect x="1005" y="709.8" width="3" height="3.2" fill="#f23645"/>
<rect x="1008" y="713.0" width="3" height="1.9" fill="#f23645"/>
<rect x="1012" y="708.2" width="3" height="6.7" fill="#089981"/>
<rect x="1016" y="691.0" width="3" height="17.2" fill="#089981"/>
<rect x="1020" y="617.9" width="3" height="73.1" fill="#089981"/>
<rect x="1024" y="617.9" width="3" height="16.1" fill="#f23645"/>
<rect x="1028" y="622.1" width="3" height="11.9" fill="#089981"/>
<rect x="1032" y="586.0" width="3" height="36.1" fill="#089981"/>
<rect x="1036" y="584.8" width="3" height="1.2" fill="#089981"/>
<rect x="1039" y="584.8" width="3" height="1.9" fill="#f23645"/>
<rect x="1043" y="586.7" width="3" height="16.1" fill="#f23645"/>
<rect x="1047" y="581.9" width="3" height="20.9" fill="#089981"/>
<rect x="1051" y="576.1" width="3" height="5.8" fill="#089981"/>
<rect x="1055" y="576.1" width="3" height="9.7" fill="#f23645"/>
<rect x="1059" y="585.8" width="3" height="30.1" fill="#f23645"/>
<rect x="1063" y="615.9" width="3" height="24.9" fill="#f23645"/>
<rect x="1067" y="640.8" width="3" height="13.2" fill="#f23645"/>
<rect x="1070" y="654.0" width="3" height="20.8" fill="#f23645"/>
<rect x="1074" y="674.8" width="3" height="9.1" fill="#f23645"/>
<rect x="1078" y="673.3" width="3" height="10.6" fill="#089981"/>
<rect x="1082" y="673.3" width="3" height="1.0" fill="#f23645"/>
<rect x="1086" y="672.0" width="3" height="1.9" fill="#089981"/>
<rect x="1090" y="647.2" width="3" height="24.8" fill="#089981"/>
<rect x="1094" y="647.2" width="3" height="14.5" fill="#f23645"/>
<rect x="1098" y="661.7" width="3" height="16.0" fill="#f23645"/>
<rect x="1101" y="677.7" width="3" height="67.7" fill="#f23645"/>
<rect x="1105" y="745.4" width="3" height="41.6" fill="#f23645"/>
<rect x="1109" y="778.0" width="3" height="9.0" fill="#089981"/>
<rect x="1113" y="778.0" width="3" height="26.4" fill="#f23645"/>
<rect x="1117" y="804.4" width="3" height="14.1" fill="#f23645"/>
<rect x="1121" y="784.3" width="3" height="34.2" fill="#089981"/>
<rect x="1125" y="784.3" width="3" height="18.7" fill="#f23645"/>
<rect x="1129" y="798.2" width="3" height="4.8" fill="#089981"/>
<rect x="1132" y="798.2" width="3" height="96.6" fill="#f23645"/>
<rect x="1136" y="861.4" width="3" height="33.4" fill="#089981"/>
<rect x="1140" y="861.0" width="3" height="1.0" fill="#089981"/>
<rect x="1144" y="848.0" width="3" height="13.0" fill="#089981"/>
<rect x="1148" y="835.9" width="3" height="12.1" fill="#089981"/>
<rect x="1152" y="813.1" width="3" height="22.8" fill="#089981"/>
<rect x="1156" y="813.1" width="3" height="38.6" fill="#f23645"/>
<rect x="1160" y="851.7" width="3" height="2.0" fill="#f23645"/>
<rect x="1163" y="834.0" width="3" height="19.7" fill="#089981"/>
<rect x="1167" y="796.3" width="3" height="37.7" fill="#089981"/>
<rect x="1171" y="796.0" width="3" height="1.0" fill="#089981"/>
<rect x="1175" y="796.0" width="3" height="1.8" fill="#f23645"/>
<rect x="1179" y="797.8" width="3" height="4.3" fill="#f23645"/>
<rect x="1183" y="801.1" width="3" height="1.0" fill="#089981"/>
<rect x="1187" y="783.2" width="3" height="17.9" fill="#089981"/>
<rect x="1191" y="783.2" width="3" height="10.6" fill="#f23645"/>
<rect x="1194" y="793.8" width="3" height="18.0" fill="#f23645"/>
<rect x="1198" y="806.4" width="3" height="5.4" fill="#089981"/>
<rect x="1202" y="753.3" width="3" height="53.1" fill="#089981"/>
<rect x="1206" y="736.2" width="3" height="17.1" fill="#089981"/>
<rect x="1210" y="714.2" width="3" height="22.0" fill="#089981"/>
<rect x="1214" y="714.2" width="3" height="6.4" fill="#f23645"/>
<rect x="1218" y="720.6" width="3" height="1.9" fill="#f23645"/>
<rect x="1222" y="708.0" width="3" height="14.5" fill="#089981"/>
<rect x="1225" y="708.0" width="3" height="9.7" fill="#f23645"/>
<rect x="1229" y="703.2" width="3" height="14.5" fill="#089981"/>
<rect x="1233" y="702.3" width="3" height="1.0" fill="#089981"/>
<rect x="1237" y="702.3" width="3" height="5.4" fill="#f23645"/>
<rect x="1241" y="704.2" width="3" height="3.5" fill="#089981"/>
<rect x="1245" y="704.2" width="3" height="7.3" fill="#f23645"/>
<rect x="1249" y="711.5" width="3" height="24.2" fill="#f23645"/>
<rect x="1253" y="732.8" width="3" height="2.9" fill="#089981"/>
<rect x="1257" y="685.8" width="3" height="47.0" fill="#089981"/>
<rect x="1260" y="685.8" width="3" height="12.0" fill="#f23645"/>
<rect x="1264" y="687.2" width="3" height="10.6" fill="#089981"/>
<rect x="1268" y="687.2" width="3" height="4.4" fill="#f23645"/>
<rect x="1272" y="691.6" width="3" height="7.2" fill="#f23645"/>
<rect x="1276" y="698.8" width="3" height="1.0" fill="#f23645"/>
<rect x="1280" y="699.0" width="3" height="1.7" fill="#f23645"/>
<rect x="1284" y="671.0" width="3" height="29.7" fill="#089981"/>
<rect x="1288" y="656.9" width="3" height="14.1" fill="#089981"/>
<rect x="1291" y="656.9" width="3" height="32.8" fill="#f23645"/>
<rect x="1295" y="689.7" width="3" height="49.3" fill="#f23645"/>
<rect x="1299" y="739.0" width="3" height="4.8" fill="#f23645"/>
<rect x="1303" y="738.0" width="3" height="5.8" fill="#089981"/>
<rect x="1307" y="738.0" width="3" height="10.6" fill="#f23645"/>
<rect x="1311" y="731.8" width="3" height="16.8" fill="#089981"/>
<rect x="1315" y="731.8" width="3" height="13.0" fill="#f23645"/>
<rect x="1319" y="710.0" width="3" height="34.8" fill="#089981"/>
<rect x="1322" y="710.0" width="3" height="38.6" fill="#f23645"/>
<rect x="1326" y="729.9" width="3" height="18.7" fill="#089981"/>
<rect x="1330" y="729.9" width="3" height="22.0" fill="#f23645"/>
<rect x="1334" y="751.9" width="3" height="6.5" fill="#f23645"/>
<rect x="1338" y="758.4" width="3" height="29.2" fill="#f23645"/>
<rect x="1342" y="773.1" width="3" height="14.5" fill="#089981"/>
<rect x="1346" y="773.1" width="3" height="1.9" fill="#f23645"/>
<rect x="1350" y="775.0" width="3" height="20.0" fill="#f23645"/>
<rect x="1353" y="795.0" width="3" height="4.6" fill="#f23645"/>
<rect x="1357" y="777.0" width="3" height="22.6" fill="#089981"/>
<rect x="1361" y="777.0" width="3" height="7.7" fill="#f23645"/>
<rect x="1365" y="784.7" width="3" height="42.1" fill="#f23645"/>
<rect x="1369" y="809.8" width="3" height="17.0" fill="#089981"/>
<rect x="1373" y="794.0" width="3" height="15.8" fill="#089981"/>
<rect x="1377" y="790.0" width="3" height="4.0" fill="#089981"/>
<rect x="1381" y="790.0" width="3" height="15.0" fill="#f23645"/>
<rect x="1384" y="805.0" width="3" height="4.8" fill="#f23645"/>
<rect x="1388" y="802.1" width="3" height="7.7" fill="#089981"/>
<rect x="1392" y="789.0" width="3" height="13.1" fill="#089981"/>
<rect x="1396" y="776.0" width="3" height="13.0" fill="#089981"/>
<rect x="1400" y="767.0" width="3" height="9.0" fill="#089981"/>
<rect x="1404" y="767.0" width="3" height="3.6" fill="#f23645"/>
<rect x="1408" y="770.6" width="3" height="1.0" fill="#f23645"/>
<rect x="1412" y="766.0" width="3" height="4.8" fill="#089981"/>
<rect x="1415" y="765.4" width="3" height="1.0" fill="#089981"/>
<rect x="1419" y="765.4" width="3" height="70.5" fill="#f23645"/>
<rect x="1423" y="835.9" width="3" height="32.8" fill="#f23645"/>
<rect x="1427" y="867.8" width="3" height="1.0" fill="#089981"/>
<rect x="1431" y="856.2" width="3" height="11.6" fill="#089981"/>
<rect x="1435" y="850.0" width="3" height="6.2" fill="#089981"/>
<rect x="1439" y="850.0" width="3" height="1.0" fill="#f23645"/>
<rect x="1443" y="851.0" width="3" height="4.8" fill="#f23645"/>
<rect x="1446" y="855.8" width="3" height="5.7" fill="#f23645"/>
<rect x="1450" y="861.0" width="3" height="1.0" fill="#089981"/>
<rect x="1454" y="842.0" width="3" height="19.0" fill="#089981"/>
<rect x="1458" y="842.0" width="3" height="6.0" fill="#f23645"/>
<rect x="1462" y="848.0" width="3" height="7.0" fill="#f23645"/>
<rect x="1466" y="849.0" width="3" height="6.0" fill="#089981"/>
<rect x="1470" y="844.0" width="3" height="5.0" fill="#089981"/>
<rect x="1474" y="844.0" width="3" height="11.2" fill="#f23645"/>
<rect x="1477" y="844.0" width="3" height="11.2" fill="#089981"/>
<rect x="1481" y="842.2" width="3" height="1.8" fill="#089981"/>
<rect x="1485" y="833.0" width="3" height="9.2" fill="#089981"/>
<rect x="1489" y="833.0" width="3" height="13.9" fill="#f23645"/>
<rect x="1493" y="843.2" width="3" height="3.7" fill="#089981"/>
<rect x="1497" y="843.2" width="3" height="32.3" fill="#f23645"/>
<rect x="1501" y="875.5" width="3" height="6.7" fill="#f23645"/>
<rect x="1505" y="810.7" width="3" height="71.5" fill="#089981"/>
<rect x="1508" y="810.7" width="3" height="7.2" fill="#f23645"/>
<rect x="1512" y="817.9" width="3" height="9.3" fill="#f23645"/>
<rect x="1516" y="827.2" width="3" height="7.7" fill="#f23645"/>
<rect x="1520" y="824.3" width="3" height="10.6" fill="#089981"/>
<rect x="1524" y="824.3" width="3" height="3.2" fill="#f23645"/>
<rect x="1528" y="827.5" width="3" height="1.2" fill="#f23645"/>
<rect x="1532" y="828.7" width="3" height="5.2" fill="#f23645"/>
<rect x="1536" y="833.9" width="3" height="20.9" fill="#f23645"/>
<rect x="1540" y="854.8" width="3" height="4.2" fill="#f23645"/>
<rect x="1543" y="859.0" width="3" height="9.7" fill="#f23645"/>
<rect x="1547" y="868.7" width="3" height="14.1" fill="#f23645"/>
<rect x="1551" y="868.7" width="3" height="14.1" fill="#089981"/>
<rect x="1555" y="868.7" width="3" height="9.3" fill="#f23645"/>
<rect x="1559" y="872.2" width="3" height="5.8" fill="#089981"/>
<rect x="1563" y="859.0" width="3" height="13.2" fill="#089981"/>
<rect x="1567" y="859.0" width="3" height="1.0" fill="#f23645"/>
<rect x="1571" y="860.0" width="3" height="4.8" fill="#f23645"/>
<rect x="1574" y="809.2" width="3" height="55.6" fill="#089981"/>
<rect x="1578" y="802.0" width="3" height="7.2" fill="#089981"/>
<rect x="1582" y="775.0" width="3" height="27.0" fill="#089981"/>
<rect x="1586" y="767.3" width="3" height="7.7" fill="#089981"/>
<rect x="1590" y="767.3" width="3" height="21.8" fill="#f23645"/>
<rect x="1594" y="786.0" width="3" height="3.1" fill="#089981"/>
<rect x="1598" y="785.2" width="3" height="1.0" fill="#089981"/>
<rect x="1602" y="785.2" width="3" height="1.0" fill="#f23645"/>
<rect x="1605" y="786.0" width="3" height="47.9" fill="#f23645"/>
<rect x="1609" y="829.1" width="3" height="4.8" fill="#089981"/>
<rect x="1613" y="829.1" width="3" height="6.7" fill="#f23645"/>
<rect x="1617" y="830.0" width="3" height="5.8" fill="#089981"/>
<rect x="1621" y="826.2" width="3" height="3.8" fill="#089981"/>
<rect x="1625" y="826.2" width="3" height="2.5" fill="#f23645"/>
<rect x="1629" y="772.1" width="3" height="56.6" fill="#089981"/>
<rect x="1633" y="771.1" width="3" height="1.0" fill="#089981"/>
<rect x="1636" y="727.1" width="3" height="44.0" fill="#089981"/>
<rect x="1640" y="727.1" width="3" height="5.8" fill="#f23645"/>
<rect x="1644" y="729.6" width="3" height="3.3" fill="#089981"/>
<rect x="1648" y="727.1" width="3" height="2.5" fill="#089981"/>
<rect x="1652" y="723.2" width="3" height="3.9" fill="#089981"/>
<rect x="1656" y="723.2" width="3" height="2.0" fill="#f23645"/>
<rect x="1660" y="714.7" width="3" height="10.5" fill="#089981"/>
<rect x="1664" y="699.1" width="3" height="15.6" fill="#089981"/>
<rect x="1667" y="699.1" width="3" height="20.8" fill="#f23645"/>
<rect x="1671" y="713.2" width="3" height="6.7" fill="#089981"/>
<rect x="1675" y="708.9" width="3" height="4.3" fill="#089981"/>
<rect x="1679" y="707.0" width="3" height="1.9" fill="#089981"/>
<rect x="1683" y="700.0" width="3" height="7.0" fill="#089981"/>
<rect x="1687" y="700.0" width="3" height="10.9" fill="#f23645"/>
<rect x="1691" y="710.9" width="3" height="7.1" fill="#f23645"/>
<rect x="1695" y="718.0" width="3" height="3.9" fill="#f23645"/>
<rect x="1698" y="721.9" width="3" height="16.0" fill="#f23645"/>
<rect x="1702" y="737.9" width="3" height="2.9" fill="#f23645"/>
<rect x="1706" y="739.8" width="3" height="1.0" fill="#089981"/>
<rect x="1710" y="739.8" width="3" height="3.9" fill="#f23645"/>
<rect x="1714" y="728.1" width="3" height="15.6" fill="#089981"/>
<rect x="1718" y="706.0" width="3" height="22.1" fill="#089981"/>
<rect x="1722" y="706.0" width="3" height="18.2" fill="#f23645"/>
<rect x="1726" y="724.2" width="3" height="3.5" fill="#f23645"/>
<rect x="1729" y="727.7" width="3" height="2.9" fill="#f23645"/>
<rect x="1733" y="694.3" width="3" height="36.3" fill="#089981"/>
<rect x="1737" y="467.5" width="3" height="226.8" fill="#089981"/>
<rect x="1741" y="374.4" width="3" height="93.1" fill="#089981"/>
<rect x="1745" y="366.6" width="3" height="7.8" fill="#089981"/>
<rect x="1749" y="366.6" width="3" height="16.4" fill="#f23645"/>
<rect x="1753" y="377.2" width="3" height="5.8" fill="#089981"/>
<rect x="1757" y="309.2" width="3" height="68.0" fill="#089981"/>
<rect x="1760" y="309.2" width="3" height="1.8" fill="#f23645"/>
<rect x="1764" y="311.0" width="3" height="15.0" fill="#f23645"/>
<rect x="1768" y="326.0" width="3" height="1.0" fill="#f23645"/>
<rect x="1772" y="300.9" width="3" height="25.7" fill="#089981"/>
<rect x="1776" y="300.3" width="3" height="1.0" fill="#089981"/>
<rect x="1780" y="300.3" width="3" height="20.5" fill="#f23645"/>
<rect x="1784" y="314.0" width="3" height="6.8" fill="#089981"/>
<rect x="1788" y="314.0" width="3" height="42.0" fill="#f23645"/>
<rect x="1791" y="328.0" width="3" height="28.0" fill="#089981"/>
<rect x="1795" y="328.0" width="3" height="2.8" fill="#f23645"/>
<rect x="1799" y="325.0" width="3" height="5.8" fill="#089981"/>
<rect x="1803" y="325.0" width="3" height="6.8" fill="#f23645"/>
<rect x="1807" y="315.0" width="3" height="16.8" fill="#089981"/>
<rect x="1811" y="315.0" width="3" height="1.0" fill="#f23645"/>
<rect x="1815" y="292.2" width="3" height="23.8" fill="#089981"/>
<rect x="1819" y="231.4" width="3" height="60.8" fill="#089981"/>
<rect x="1822" y="231.4" width="3" height="86.9" fill="#f23645"/>
<rect x="1826" y="306.1" width="3" height="12.2" fill="#089981"/>
<rect x="1830" y="306.1" width="3" height="16.6" fill="#f23645"/>
<rect x="1834" y="306.1" width="3" height="16.6" fill="#089981"/>
<rect x="1838" y="283.5" width="3" height="22.6" fill="#089981"/>
<rect x="1842" y="283.5" width="3" height="52.5" fill="#f23645"/>
<rect x="1846" y="336.0" width="3" height="32.0" fill="#f23645"/>
<rect x="1850" y="345.0" width="3" height="23.0" fill="#089981"/>
<rect x="1854" y="345.0" width="3" height="4.8" fill="#f23645"/>
<rect x="1857" y="346.3" width="3" height="3.5" fill="#089981"/>
<rect x="1861" y="333.7" width="3" height="12.6" fill="#089981"/>
<rect x="1865" y="333.7" width="3" height="4.5" fill="#f23645"/>
<rect x="1869" y="334.1" width="3" height="4.1" fill="#089981"/>
<rect x="1873" y="322.7" width="3" height="11.4" fill="#089981"/>
<rect x="1877" y="322.7" width="3" height="6.2" fill="#f23645"/>
<rect x="1881" y="328.9" width="3" height="1.0" fill="#f23645"/>
<rect x="1885" y="325.1" width="3" height="4.8" fill="#089981"/>
<rect x="1888" y="325.1" width="3" height="5.2" fill="#f23645"/>
<rect x="1892" y="326.0" width="3" height="4.3" fill="#089981"/>
<rect x="1896" y="323.7" width="3" height="2.3" fill="#089981"/>
<rect x="1900" y="323.7" width="3" height="8.5" fill="#f23645"/>
<rect x="1904" y="318.9" width="3" height="13.3" fill="#089981"/>
<rect x="1908" y="300.3" width="3" height="18.6" fill="#089981"/>
<rect x="1912" y="289.3" width="3" height="11.0" fill="#089981"/>
<rect x="1916" y="261.9" width="3" height="27.4" fill="#089981"/>
<rect x="1919" y="261.9" width="3" height="11.0" fill="#f23645"/>
<rect x="1923" y="264.2" width="3" height="8.7" fill="#089981"/>
<rect x="1927" y="264.2" width="3" height="18.9" fill="#f23645"/>
<rect x="1931" y="231.9" width="3" height="51.2" fill="#089981"/>
<rect x="1935" y="231.9" width="3" height="9.1" fill="#f23645"/>
<rect x="1939" y="235.8" width="3" height="5.2" fill="#089981"/>
<rect x="1943" y="235.8" width="3" height="7.2" fill="#f23645"/>
<rect x="1947" y="220.2" width="3" height="22.8" fill="#089981"/>
<rect x="1950" y="220.2" width="3" height="3.4" fill="#f23645"/>
<rect x="1954" y="223.6" width="3" height="25.1" fill="#f23645"/>
<rect x="1958" y="248.0" width="3" height="1.0" fill="#089981"/>
<rect x="1962" y="248.0" width="3" height="14.8" fill="#f23645"/>
<rect x="1966" y="262.8" width="3" height="3.9" fill="#f23645"/>
<rect x="1970" y="255.1" width="3" height="11.6" fill="#089981"/>
<rect x="1974" y="241.0" width="3" height="14.1" fill="#089981"/>
<rect x="1978" y="241.0" width="3" height="25.5" fill="#f23645"/>
<rect x="1981" y="266.5" width="3" height="19.5" fill="#f23645"/>
<rect x="1985" y="280.0" width="3" height="6.0" fill="#089981"/>
<rect x="1989" y="273.9" width="3" height="6.1" fill="#089981"/>
<rect x="1993" y="273.9" width="3" height="1.0" fill="#f23645"/>
<rect x="1997" y="260.3" width="3" height="14.3" fill="#089981"/>
<rect x="2001" y="260.3" width="3" height="37.7" fill="#f23645"/>
<rect x="2005" y="292.2" width="3" height="5.8" fill="#089981"/>
<rect x="2009" y="292.2" width="3" height="18.8" fill="#f23645"/>
<rect x="2012" y="311.0" width="3" height="6.9" fill="#f23645"/>
<rect x="2016" y="317.9" width="3" height="4.8" fill="#f23645"/>
<rect x="2020" y="317.0" width="3" height="5.7" fill="#089981"/>
<rect x="2024" y="310.2" width="3" height="6.8" fill="#089981"/>
<rect x="2028" y="306.1" width="3" height="4.1" fill="#089981"/>
<rect x="2032" y="306.1" width="3" height="26.7" fill="#f23645"/>
<rect x="2036" y="332.4" width="3" height="1.0" fill="#089981"/>
</g>
<text x="15" y="29.3" font-size="17.6" fill="#d1d4dc" textLength="550" lengthAdjust="spacingAndGlyphs" stroke="#d1d4dc" stroke-width="0.35" >AlgoAlpha published on TradingView.com, Jun 30, 2024 21:47 UTC+8</text>
<text x="27" y="69.4" font-size="16" fill="#b6b9c2" textLength="302" lengthAdjust="spacingAndGlyphs" stroke="#b6b9c2" stroke-width="0.35" >Ethereum / U.S. Dollar, 3h, BITSTAMP</text>
<text x="339.7" y="69.4" font-size="16" fill="#b6b9c2" textLength="12" lengthAdjust="spacingAndGlyphs" stroke="#b6b9c2" stroke-width="0.35" >O</text>
<text x="351.8" y="69.4" font-size="16" fill="#f7c471" textLength="60.4" lengthAdjust="spacingAndGlyphs" stroke="#f7c471" stroke-width="0.35" >3,735.2</text>
<text x="424" y="69.4" font-size="16" fill="#b6b9c2" textLength="11.2" lengthAdjust="spacingAndGlyphs" stroke="#b6b9c2" stroke-width="0.35" >H</text>
<text x="435.4" y="69.4" font-size="16" fill="#f7c471" textLength="59.8" lengthAdjust="spacingAndGlyphs" stroke="#f7c471" stroke-width="0.35" >3,752.2</text>
<text x="507" y="69.4" font-size="16" fill="#b6b9c2" textLength="8.5" lengthAdjust="spacingAndGlyphs" stroke="#b6b9c2" stroke-width="0.35" >L</text>
<text x="516" y="69.4" font-size="16" fill="#f7c471" textLength="58.5" lengthAdjust="spacingAndGlyphs" stroke="#f7c471" stroke-width="0.35" >3,713.7</text>
<text x="586.7" y="69.4" font-size="16" fill="#b6b9c2" textLength="11" lengthAdjust="spacingAndGlyphs" stroke="#b6b9c2" stroke-width="0.35" >C</text>
<text x="598" y="69.4" font-size="16" fill="#f7c471" textLength="59.3" lengthAdjust="spacingAndGlyphs" stroke="#f7c471" stroke-width="0.35" >3,735.3</text>
<text x="669.2" y="69.4" font-size="16" fill="#f7c471" textLength="107.5" lengthAdjust="spacingAndGlyphs" stroke="#f7c471" stroke-width="0.35" >+0.7 (+0.02%)</text>
<text x="27" y="95.7" font-size="16" fill="#b6b9c2" textLength="638.6" lengthAdjust="spacingAndGlyphs" stroke="#b6b9c2" stroke-width="0.35" >AlgoAlpha - Institutional Liq &amp; PAC (15, Candle Close, Solid, 50, 15, 7, 3, 14, 7)</text>
<rect x="2334.1" y="47" width="77.7" height="37.9" rx="5.5" fill="#131722" stroke="#2a2e39" stroke-width="1.8"/>
<text x="2348.7" y="71.8" font-size="17.7" fill="#d1d4dc" textLength="30.5" lengthAdjust="spacingAndGlyphs" stroke="#d1d4dc" stroke-width="0.35" >USD</text>
<path d="M2353 93.2 L2355.8 90.6" stroke="#b2b5be" stroke-width="1.2"/>
<text x="2341.8" y="142" font-size="17.5" fill="#b2b5be" textLength="60.5" lengthAdjust="spacingAndGlyphs" stroke="#b2b5be" stroke-width="0.35" >4,100.0</text>
<text x="2341.8" y="194.05" font-size="17.5" fill="#b2b5be" textLength="60.5" lengthAdjust="spacingAndGlyphs" stroke="#b2b5be" stroke-width="0.35" >4,000.0</text>
<text x="2341.8" y="246.75" font-size="17.5" fill="#b2b5be" textLength="60.5" lengthAdjust="spacingAndGlyphs" stroke="#b2b5be" stroke-width="0.35" >3,900.0</text>
<text x="2341.8" y="300.75" font-size="17.5" fill="#b2b5be" textLength="60.5" lengthAdjust="spacingAndGlyphs" stroke="#b2b5be" stroke-width="0.35" >3,800.0</text>
<text x="2341.8" y="357.85" font-size="17.5" fill="#b2b5be" textLength="60.5" lengthAdjust="spacingAndGlyphs" stroke="#b2b5be" stroke-width="0.35" >3,700.0</text>
<text x="2341.8" y="415.25" font-size="17.5" fill="#b2b5be" textLength="60.5" lengthAdjust="spacingAndGlyphs" stroke="#b2b5be" stroke-width="0.35" >3,600.0</text>
<text x="2341.8" y="473.85" font-size="17.5" fill="#b2b5be" textLength="60.5" lengthAdjust="spacingAndGlyphs" stroke="#b2b5be" stroke-width="0.35" >3,500.0</text>
<text x="2341.8" y="521.95" font-size="17.5" fill="#b2b5be" textLength="60.5" lengthAdjust="spacingAndGlyphs" stroke="#b2b5be" stroke-width="0.35" >3,420.0</text>
<text x="2341.8" y="572.05" font-size="17.5" fill="#b2b5be" textLength="60.5" lengthAdjust="spacingAndGlyphs" stroke="#b2b5be" stroke-width="0.35" >3,340.0</text>
<text x="2341.8" y="622.85" font-size="17.5" fill="#b2b5be" textLength="60.5" lengthAdjust="spacingAndGlyphs" stroke="#b2b5be" stroke-width="0.35" >3,260.0</text>
<text x="2341.8" y="674.65" font-size="17.5" fill="#b2b5be" textLength="60.5" lengthAdjust="spacingAndGlyphs" stroke="#b2b5be" stroke-width="0.35" >3,180.0</text>
<text x="2341.8" y="724.65" font-size="17.5" fill="#b2b5be" textLength="60.5" lengthAdjust="spacingAndGlyphs" stroke="#b2b5be" stroke-width="0.35" >3,105.0</text>
<text x="2341.8" y="778.75" font-size="17.5" fill="#b2b5be" textLength="60.5" lengthAdjust="spacingAndGlyphs" stroke="#b2b5be" stroke-width="0.35" >3,025.0</text>
<text x="2341.8" y="836.25" font-size="17.5" fill="#b2b5be" textLength="60.5" lengthAdjust="spacingAndGlyphs" stroke="#b2b5be" stroke-width="0.35" >2,945.0</text>
<text x="2341.8" y="892.95" font-size="17.5" fill="#b2b5be" textLength="60.5" lengthAdjust="spacingAndGlyphs" stroke="#b2b5be" stroke-width="0.35" >2,865.0</text>
<text x="2341.8" y="945.25" font-size="17.5" fill="#b2b5be" textLength="60.5" lengthAdjust="spacingAndGlyphs" stroke="#b2b5be" stroke-width="0.35" >2,795.0</text>
<text x="2341.8" y="991.25" font-size="17.5" fill="#b2b5be" textLength="60.5" lengthAdjust="spacingAndGlyphs" stroke="#b2b5be" stroke-width="0.35" >2,735.0</text>
<text x="2341.8" y="1036.95" font-size="17.5" fill="#b2b5be" textLength="60.5" lengthAdjust="spacingAndGlyphs" stroke="#b2b5be" stroke-width="0.35" >2,675.0</text>
<path d="M2328 319 H2408 a3 3 0 0 1 3 3 V343 a3 3 0 0 1 -3 3 H2328 Z" fill="#089981"/>
<text x="2342.7" y="337.8" font-size="17.5" fill="#ffffff" textLength="59" lengthAdjust="spacingAndGlyphs" font-weight="bold" >3,735.3</text>
<text x="187" y="1073" font-size="17.5" fill="#b2b5be" font-weight="bold" text-anchor="middle" >Apr</text>
<text x="404.7" y="1073" font-size="17.5" fill="#b2b5be" text-anchor="middle" stroke="#b2b5be" stroke-width="0.35" >8</text>
<text x="621.7" y="1073" font-size="17.5" fill="#b2b5be" text-anchor="middle" stroke="#b2b5be" stroke-width="0.35" >15</text>
<text x="839" y="1073" font-size="17.5" fill="#b2b5be" text-anchor="middle" stroke="#b2b5be" stroke-width="0.35" >22</text>
<text x="962.7" y="1073" font-size="17.5" fill="#b2b5be" text-anchor="middle" stroke="#b2b5be" stroke-width="0.35" >26</text>
<text x="1117.9" y="1073" font-size="17.5" fill="#b2b5be" font-weight="bold" text-anchor="middle" >May</text>
<text x="1273" y="1073" font-size="17.5" fill="#b2b5be" text-anchor="middle" stroke="#b2b5be" stroke-width="0.35" >6</text>
<text x="1490" y="1073" font-size="17.5" fill="#b2b5be" text-anchor="middle" stroke="#b2b5be" stroke-width="0.35" >13</text>
<text x="1707" y="1073" font-size="17.5" fill="#b2b5be" text-anchor="middle" stroke="#b2b5be" stroke-width="0.35" >20</text>
<text x="1923.7" y="1073" font-size="17.5" fill="#b2b5be" text-anchor="middle" stroke="#b2b5be" stroke-width="0.35" >27</text>
<text x="2079.2" y="1073" font-size="17.5" fill="#b2b5be" font-weight="bold" text-anchor="middle" >Jun</text>
<text x="2203.3" y="1073" font-size="17.5" fill="#b2b5be" text-anchor="middle" stroke="#b2b5be" stroke-width="0.35" >5</text>
<text x="2222.7" y="271" font-size="21" fill="#d1d4dc" textLength="84" lengthAdjust="spacingAndGlyphs" stroke="#d1d4dc" stroke-width="0.35" >13562.47</text>
<text x="2264.1" y="831.1" font-size="21" fill="#d1d4dc" text-anchor="middle" stroke="#d1d4dc" stroke-width="0.35" >0</text>
<g fill="#d1d4dc"><path d="M14.9 1105 H26.9 V1120 H21 V1111.2 H14.9 Z"/><circle cx="31.5" cy="1108.1" r="3.1"/><path d="M37.6 1105 H44.6 L38.9 1120 H31.7 Z"/></g>
<text x="49.3" y="1120.7" font-size="18.8" fill="#d1d4dc" textLength="106.2" lengthAdjust="spacingAndGlyphs" stroke="#d1d4dc" stroke-width="0.75" >TradingView</text>
</svg></body></html>
